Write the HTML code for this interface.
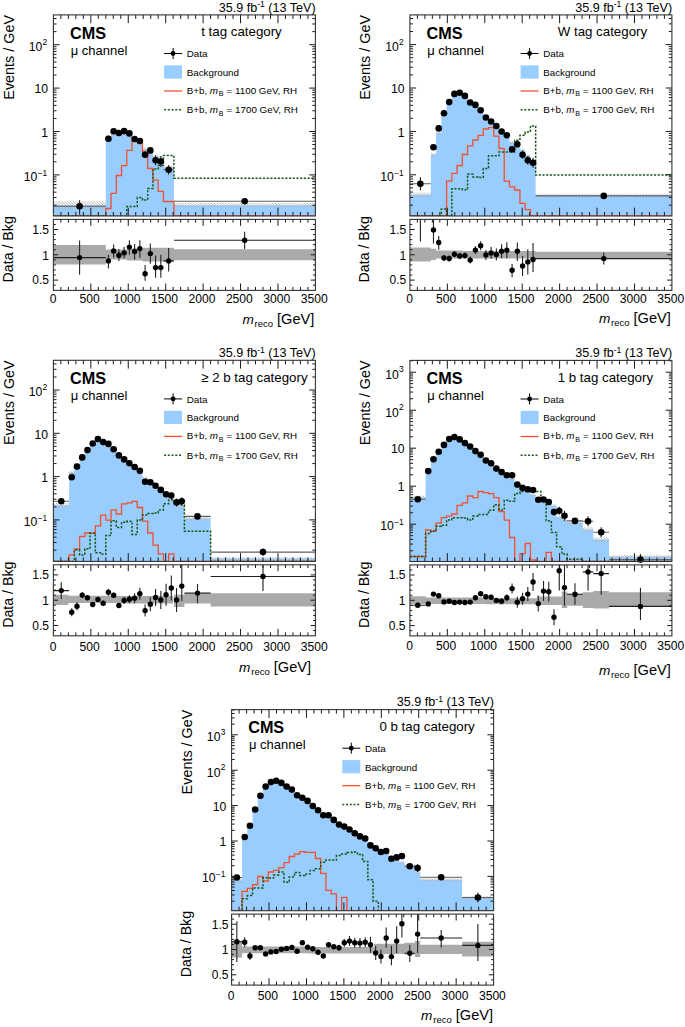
<!DOCTYPE html>
<html><head><meta charset="utf-8"><style>html,body{margin:0;padding:0;background:#fff;}svg{display:block;}</style></head>
<body><svg width="685" height="1027" viewBox="0 0 685 1027">
<defs><pattern id="hatch" patternUnits="userSpaceOnUse" width="2.05" height="2.05" patternTransform="rotate(45)"><rect width="2.05" height="0.7" fill="#b0b0b0"/></pattern></defs>
<rect width="685" height="1027" fill="#fff"/>
<clipPath id="c1"><rect x="53.4" y="14.9" width="262" height="201.1"/></clipPath>
<g clip-path="url(#c1)">
<path d="M53.4 216 L53.4 205.2 L105.8 205.2 L105.8 136.9 L111.04 136.9 L111.04 134.1 L116.28 134.1 L116.28 134.2 L121.52 134.2 L121.52 133.7 L126.76 133.7 L126.76 136.3 L132 136.3 L132 141.1 L137.24 141.1 L137.24 143.1 L142.48 143.1 L142.48 149 L147.72 149 L147.72 152.2 L152.96 152.2 L152.96 156.4 L158.2 156.4 L158.2 157.5 L163.44 157.5 L163.44 167.7 L173.92 167.7 L173.92 205.2 L315.4 205.2 L315.4 216Z" fill="#99ccff"/>
<path d="M53.4 201.3H105.8V209.1H53.4ZM105.8 135.1H111.04V138.7H105.8ZM111.04 132.3H116.28V135.9H111.04ZM116.28 132.4H121.52V136H116.28ZM121.52 131.9H126.76V135.5H121.52ZM126.76 134.5H132V138.1H126.76ZM132 139.3H137.24V142.9H132ZM137.24 141.3H142.48V144.9H137.24ZM142.48 147.2H147.72V150.8H142.48ZM147.72 150.4H152.96V154H147.72ZM152.96 154.6H158.2V158.2H152.96ZM158.2 155.7H163.44V159.3H158.2ZM163.44 165.9H173.92V169.5H163.44ZM173.92 203.1H315.4V207.3H173.92Z" fill="url(#hatch)"/>
<path d="M53.4 216 L105.8 216 L105.8 208.5 L111.04 208.5 L111.04 193.3 L116.28 193.3 L116.28 175.5 L121.52 175.5 L121.52 165.6 L126.76 165.6 L126.76 150.4 L132 150.4 L132 141 L137.24 141 L137.24 141 L142.48 141 L142.48 151.6 L147.72 151.6 L147.72 168.5 L152.96 168.5 L152.96 180.2 L158.2 180.2 L158.2 191.4 L163.44 191.4 L163.44 201.5 L173.92 201.5 L173.92 216 L315.4 216" fill="none" stroke="#f44f30" stroke-width="1.3"/>
<path d="M53.4 216 L105.8 216 L105.8 216 L111.04 216 L111.04 216 L116.28 216 L116.28 216 L121.52 216 L121.52 216 L126.76 216 L126.76 206.6 L132 206.6 L132 206.6 L137.24 206.6 L137.24 197.6 L142.48 197.6 L142.48 200 L147.72 200 L147.72 188.4 L152.96 188.4 L152.96 169.1 L158.2 169.1 L158.2 165.6 L163.44 165.6 L163.44 155.5 L173.92 155.5 L173.92 178.3 L315.4 178.3" fill="none" stroke="#1a581a" stroke-width="1.5" stroke-dasharray="2.2 1.52"/>
<path d="M53.4 206.3H105.8M163.44 169.7H173.92M173.92 201.2H315.4" stroke="#606060" stroke-width="1.1" fill="none"/>
<path d="M79.6 200.3V214.7M145.1 151.8V157.8M150.34 147.4V153.4M155.58 155.3V165.3M160.82 156V167M168.68 165V174.4" stroke="#222" stroke-width="1.1" fill="none"/>
</g>
<g fill="#000"><circle cx="79.6" cy="206.3" r="3.3"/><circle cx="108.42" cy="138.7" r="3.3"/><circle cx="113.66" cy="131.2" r="3.3"/><circle cx="118.9" cy="133" r="3.3"/><circle cx="124.14" cy="131.1" r="3.3"/><circle cx="129.38" cy="133.4" r="3.3"/><circle cx="134.62" cy="139" r="3.3"/><circle cx="139.86" cy="141" r="3.3"/><circle cx="145.1" cy="154.8" r="3.3"/><circle cx="150.34" cy="150.4" r="3.3"/><circle cx="155.58" cy="160.3" r="3.3"/><circle cx="160.82" cy="161.5" r="3.3"/><circle cx="168.68" cy="169.7" r="3.3"/><circle cx="244.66" cy="201.2" r="3.3"/></g>
<clipPath id="c1l"><rect x="53.4" y="219.4" width="262" height="71"/></clipPath>
<g clip-path="url(#c1l)">
<path d="M53.4 244.9H105.8V264.6H53.4ZM105.8 249.5H126.76V259.5H105.8ZM126.76 248.5H142.48V260.5H126.76ZM142.48 247.7H173.92V261.5H142.48ZM173.92 249.2H315.4V260.3H173.92Z" fill="#aaaaaa"/>
<path d="M53.4 257.6H105.8M163.44 260.9H173.92M173.92 240.3H315.4" stroke="#222" stroke-width="1.1" fill="none"/>
<path d="M79.6 240.4V274.7M108.42 255V268.5M113.66 244.5V257.6M118.9 249V261M124.14 247.1V258.5M129.38 240.2V254.8M134.62 244V259.5M139.86 240.2V257.7M145.1 265V280.7M150.34 243.4V263.8M155.58 255.5V277.8M160.82 254.8V277.8M168.68 248V271.4M244.66 231.8V249" stroke="#222" stroke-width="1.1" fill="none"/>
</g>
<g fill="#000"><circle cx="79.6" cy="257.6" r="2.7"/><circle cx="108.42" cy="260.9" r="2.7"/><circle cx="113.66" cy="250.9" r="2.7"/><circle cx="118.9" cy="255.3" r="2.7"/><circle cx="124.14" cy="252.9" r="2.7"/><circle cx="129.38" cy="247.1" r="2.7"/><circle cx="134.62" cy="251.5" r="2.7"/><circle cx="139.86" cy="248.6" r="2.7"/><circle cx="145.1" cy="273.7" r="2.7"/><circle cx="150.34" cy="253.6" r="2.7"/><circle cx="155.58" cy="267.6" r="2.7"/><circle cx="160.82" cy="267.6" r="2.7"/><circle cx="168.68" cy="260.9" r="2.7"/><circle cx="244.66" cy="240.3" r="2.7"/></g>
<path d="M60.89 14.9v4M60.89 216v-4M68.37 14.9v4M68.37 216v-4M75.86 14.9v4M75.86 216v-4M83.34 14.9v4M83.34 216v-4M90.83 14.9v8.3M90.83 216v-8.3M98.31 14.9v4M98.31 216v-4M105.8 14.9v4M105.8 216v-4M113.29 14.9v4M113.29 216v-4M120.77 14.9v4M120.77 216v-4M128.26 14.9v8.3M128.26 216v-8.3M135.74 14.9v4M135.74 216v-4M143.23 14.9v4M143.23 216v-4M150.71 14.9v4M150.71 216v-4M158.2 14.9v4M158.2 216v-4M165.69 14.9v8.3M165.69 216v-8.3M173.17 14.9v4M173.17 216v-4M180.66 14.9v4M180.66 216v-4M188.14 14.9v4M188.14 216v-4M195.63 14.9v4M195.63 216v-4M203.11 14.9v8.3M203.11 216v-8.3M210.6 14.9v4M210.6 216v-4M218.09 14.9v4M218.09 216v-4M225.57 14.9v4M225.57 216v-4M233.06 14.9v4M233.06 216v-4M240.54 14.9v8.3M240.54 216v-8.3M248.03 14.9v4M248.03 216v-4M255.51 14.9v4M255.51 216v-4M263 14.9v4M263 216v-4M270.49 14.9v4M270.49 216v-4M277.97 14.9v8.3M277.97 216v-8.3M285.46 14.9v4M285.46 216v-4M292.94 14.9v4M292.94 216v-4M300.43 14.9v4M300.43 216v-4M307.91 14.9v4M307.91 216v-4M53.4 205.24h3.1M315.4 205.24h-3.1M53.4 197.59h3.1M315.4 197.59h-3.1M53.4 192.17h3.1M315.4 192.17h-3.1M53.4 187.96h3.1M315.4 187.96h-3.1M53.4 184.53h3.1M315.4 184.53h-3.1M53.4 181.62h3.1M315.4 181.62h-3.1M53.4 179.11h3.1M315.4 179.11h-3.1M53.4 176.89h3.1M315.4 176.89h-3.1M53.4 174.9h6.2M315.4 174.9h-6.2M53.4 161.84h3.1M315.4 161.84h-3.1M53.4 154.19h3.1M315.4 154.19h-3.1M53.4 148.77h3.1M315.4 148.77h-3.1M53.4 144.56h3.1M315.4 144.56h-3.1M53.4 141.13h3.1M315.4 141.13h-3.1M53.4 138.22h3.1M315.4 138.22h-3.1M53.4 135.71h3.1M315.4 135.71h-3.1M53.4 133.49h3.1M315.4 133.49h-3.1M53.4 131.5h6.2M315.4 131.5h-6.2M53.4 118.44h3.1M315.4 118.44h-3.1M53.4 110.79h3.1M315.4 110.79h-3.1M53.4 105.37h3.1M315.4 105.37h-3.1M53.4 101.16h3.1M315.4 101.16h-3.1M53.4 97.73h3.1M315.4 97.73h-3.1M53.4 94.82h3.1M315.4 94.82h-3.1M53.4 92.31h3.1M315.4 92.31h-3.1M53.4 90.09h3.1M315.4 90.09h-3.1M53.4 88.1h6.2M315.4 88.1h-6.2M53.4 75.04h3.1M315.4 75.04h-3.1M53.4 67.39h3.1M315.4 67.39h-3.1M53.4 61.97h3.1M315.4 61.97h-3.1M53.4 57.76h3.1M315.4 57.76h-3.1M53.4 54.33h3.1M315.4 54.33h-3.1M53.4 51.42h3.1M315.4 51.42h-3.1M53.4 48.91h3.1M315.4 48.91h-3.1M53.4 46.69h3.1M315.4 46.69h-3.1M53.4 44.7h6.2M315.4 44.7h-6.2M53.4 31.64h3.1M315.4 31.64h-3.1M53.4 23.99h3.1M315.4 23.99h-3.1M53.4 18.57h3.1M315.4 18.57h-3.1M60.89 219.4v3.2M60.89 290.4v-3.5M68.37 219.4v3.2M68.37 290.4v-3.5M75.86 219.4v3.2M75.86 290.4v-3.5M83.34 219.4v3.2M83.34 290.4v-3.5M90.83 219.4v6.4M90.83 290.4v-6.9M98.31 219.4v3.2M98.31 290.4v-3.5M105.8 219.4v3.2M105.8 290.4v-3.5M113.29 219.4v3.2M113.29 290.4v-3.5M120.77 219.4v3.2M120.77 290.4v-3.5M128.26 219.4v6.4M128.26 290.4v-6.9M135.74 219.4v3.2M135.74 290.4v-3.5M143.23 219.4v3.2M143.23 290.4v-3.5M150.71 219.4v3.2M150.71 290.4v-3.5M158.2 219.4v3.2M158.2 290.4v-3.5M165.69 219.4v6.4M165.69 290.4v-6.9M173.17 219.4v3.2M173.17 290.4v-3.5M180.66 219.4v3.2M180.66 290.4v-3.5M188.14 219.4v3.2M188.14 290.4v-3.5M195.63 219.4v3.2M195.63 290.4v-3.5M203.11 219.4v6.4M203.11 290.4v-6.9M210.6 219.4v3.2M210.6 290.4v-3.5M218.09 219.4v3.2M218.09 290.4v-3.5M225.57 219.4v3.2M225.57 290.4v-3.5M233.06 219.4v3.2M233.06 290.4v-3.5M240.54 219.4v6.4M240.54 290.4v-6.9M248.03 219.4v3.2M248.03 290.4v-3.5M255.51 219.4v3.2M255.51 290.4v-3.5M263 219.4v3.2M263 290.4v-3.5M270.49 219.4v3.2M270.49 290.4v-3.5M277.97 219.4v6.4M277.97 290.4v-6.9M285.46 219.4v3.2M285.46 290.4v-3.5M292.94 219.4v3.2M292.94 290.4v-3.5M300.43 219.4v3.2M300.43 290.4v-3.5M307.91 219.4v3.2M307.91 290.4v-3.5M53.4 285.16h2.4M315.4 285.16h-2.4M53.4 280.1h4.7M315.4 280.1h-4.7M53.4 275.04h2.4M315.4 275.04h-2.4M53.4 269.98h2.4M315.4 269.98h-2.4M53.4 264.92h2.4M315.4 264.92h-2.4M53.4 259.86h2.4M315.4 259.86h-2.4M53.4 254.8h4.7M315.4 254.8h-4.7M53.4 249.74h2.4M315.4 249.74h-2.4M53.4 244.68h2.4M315.4 244.68h-2.4M53.4 239.62h2.4M315.4 239.62h-2.4M53.4 234.56h2.4M315.4 234.56h-2.4M53.4 229.5h4.7M315.4 229.5h-4.7M53.4 224.44h2.4M315.4 224.44h-2.4" stroke="#1a1a1a" stroke-width="1" fill="none"/>
<rect x="53.4" y="14.9" width="262" height="201.1" fill="none" stroke="#333" stroke-width="1.1"/>
<rect x="53.4" y="219.4" width="262" height="71" fill="none" stroke="#333" stroke-width="1.1"/>
<g style="font-family:'Liberation Sans',sans-serif" fill="#000"><text x="315.7" y="11.7" font-size="12.6" text-anchor="end">35.9 fb<tspan font-size="8.6" dy="-4.6">-1</tspan><tspan dy="4.6"> (13 TeV)</tspan></text><text x="70" y="38.65" font-size="16.4" font-weight="bold" textLength="36" lengthAdjust="spacingAndGlyphs">CMS</text><text x="70.7" y="54.7" font-size="13">μ channel</text><text x="201.2" y="36.4" font-size="13.3">t tag category</text><path d="M164.1 53.5h18M173.1 48v11" stroke="#000" stroke-width="1"/><circle cx="173.1" cy="53.5" r="2.4" fill="#000"/><text x="186.7" y="57.1" font-size="9.8">Data</text><rect x="164.1" y="65.4" width="18" height="13.2" fill="#99ccff"/><text x="186.7" y="75.8" font-size="9.8">Background</text><path d="M164.1 91h18" stroke="#f44f30" stroke-width="1.3"/><text x="186.7" y="93.9" font-size="9.8">B+b, <tspan font-style="italic">m</tspan><tspan font-size="7" dy="2.4" dx="0.6">B</tspan><tspan dy="-2.4" dx="0.6"> = 1100 GeV, RH</tspan></text><path d="M164.1 109.8h18" stroke="#1a581a" stroke-width="1.4" stroke-dasharray="2 1.72"/><text x="186.7" y="113.3" font-size="9.8">B+b, <tspan font-style="italic">m</tspan><tspan font-size="7" dy="2.4" dx="0.6">B</tspan><tspan dy="-2.4" dx="0.6"> = 1700 GeV, RH</tspan></text><text x="47.2" y="51.1" font-size="12.2" text-anchor="end">10<tspan font-size="8.4" dy="-6.4" dx="0.3">2</tspan></text><text x="48" y="93.3" font-size="12.2" text-anchor="end">10</text><text x="48" y="136.7" font-size="12.2" text-anchor="end">1</text><text x="47.2" y="180.9" font-size="12.2" text-anchor="end">10<tspan font-size="8.4" dy="-5.2" dx="0.3">−1</tspan></text><text x="49" y="233.8" font-size="12" text-anchor="end">1.5</text><text x="49" y="259.6" font-size="12" text-anchor="end">1</text><text x="49" y="284.4" font-size="12" text-anchor="end">0.5</text><text x="53" y="303" font-size="12.1" text-anchor="middle">0</text><text x="89.63" y="303" font-size="12.1" text-anchor="middle">500</text><text x="127.06" y="303" font-size="12.1" text-anchor="middle">1000</text><text x="164.49" y="303" font-size="12.1" text-anchor="middle">1500</text><text x="201.91" y="303" font-size="12.1" text-anchor="middle">2000</text><text x="239.34" y="303" font-size="12.1" text-anchor="middle">2500</text><text x="276.77" y="303" font-size="12.1" text-anchor="middle">3000</text><text x="314.2" y="303" font-size="12.1" text-anchor="middle">3500</text><text transform="translate(13.8 14.9) rotate(-90)" font-size="14.4" text-anchor="end">Events / GeV</text><text transform="translate(12.8 216.2) rotate(-90)" font-size="14.2" text-anchor="end">Data / Bkg</text><text x="314.4" y="323.7" font-size="14.6" text-anchor="end"><tspan font-style="italic" font-size="13.6">m</tspan><tspan font-size="9.5" dy="3" dx="0.8">reco</tspan><tspan dy="-3"> [GeV]</tspan></text></g>
<clipPath id="c2"><rect x="409.9" y="14.9" width="262" height="201.1"/></clipPath>
<g clip-path="url(#c2)">
<path d="M409.9 216 L409.9 194.8 L430.86 194.8 L430.86 154.6 L436.1 154.6 L436.1 132.8 L441.34 132.8 L441.34 114.5 L446.58 114.5 L446.58 102.8 L451.82 102.8 L451.82 95.8 L457.06 95.8 L457.06 94.1 L462.3 94.1 L462.3 96.8 L467.54 96.8 L467.54 101.5 L472.78 101.5 L472.78 106.5 L478.02 106.5 L478.02 112.4 L483.26 112.4 L483.26 117 L488.5 117 L488.5 121.8 L493.74 121.8 L493.74 126.3 L498.98 126.3 L498.98 132.2 L504.22 132.2 L504.22 136.9 L509.46 136.9 L509.46 142.3 L514.7 142.3 L514.7 146.3 L519.94 146.3 L519.94 150.1 L525.18 150.1 L525.18 155.8 L530.42 155.8 L530.42 160 L535.66 160 L535.66 195.3 L671.9 195.3 L671.9 216Z" fill="#99ccff"/>
<path d="M409.9 192.5H430.86V197.1H409.9ZM430.86 153H436.1V156.2H430.86ZM436.1 131.2H441.34V134.4H436.1ZM441.34 112.9H446.58V116.1H441.34ZM446.58 101.2H451.82V104.4H446.58ZM451.82 94.2H457.06V97.4H451.82ZM457.06 92.5H462.3V95.7H457.06ZM462.3 95.2H467.54V98.4H462.3ZM467.54 99.9H472.78V103.1H467.54ZM472.78 104.9H478.02V108.1H472.78ZM478.02 110.8H483.26V114H478.02ZM483.26 115.4H488.5V118.6H483.26ZM488.5 120.2H493.74V123.4H488.5ZM493.74 124.7H498.98V127.9H493.74ZM498.98 130.6H504.22V133.8H498.98ZM504.22 135.3H509.46V138.5H504.22ZM509.46 140.7H514.7V143.9H509.46ZM514.7 144.7H519.94V147.9H514.7ZM519.94 148.5H525.18V151.7H519.94ZM525.18 154.2H530.42V157.4H525.18ZM530.42 158.4H535.66V161.6H530.42ZM535.66 193.7H671.9V196.9H535.66Z" fill="url(#hatch)"/>
<path d="M409.9 216 L430.86 216 L430.86 216 L436.1 216 L436.1 216 L441.34 216 L441.34 216 L446.58 216 L446.58 181.2 L451.82 181.2 L451.82 173.4 L457.06 173.4 L457.06 165.5 L462.3 165.5 L462.3 154.5 L467.54 154.5 L467.54 145.9 L472.78 145.9 L472.78 140 L478.02 140 L478.02 135.3 L483.26 135.3 L483.26 129 L488.5 129 L488.5 127.7 L493.74 127.7 L493.74 136.2 L498.98 136.2 L498.98 148.5 L504.22 148.5 L504.22 181.1 L509.46 181.1 L509.46 186.8 L514.7 186.8 L514.7 190 L519.94 190 L519.94 203.3 L525.18 203.3 L525.18 209.6 L530.42 209.6 L530.42 216 L535.66 216 L535.66 216 L671.9 216" fill="none" stroke="#f44f30" stroke-width="1.3"/>
<path d="M409.9 216 L430.86 216 L430.86 216 L436.1 216 L436.1 216 L441.34 216 L441.34 209.1 L446.58 209.1 L446.58 216 L451.82 216 L451.82 188.7 L457.06 188.7 L457.06 188.7 L462.3 188.7 L462.3 189.8 L467.54 189.8 L467.54 174.3 L472.78 174.3 L472.78 177 L478.02 177 L478.02 177.5 L483.26 177.5 L483.26 168.5 L488.5 168.5 L488.5 155.8 L493.74 155.8 L493.74 155.8 L498.98 155.8 L498.98 152 L504.22 152 L504.22 152 L509.46 152 L509.46 152 L514.7 152 L514.7 140.2 L519.94 140.2 L519.94 135.2 L525.18 135.2 L525.18 132.1 L530.42 132.1 L530.42 126 L535.66 126 L535.66 175 L671.9 175" fill="none" stroke="#1a581a" stroke-width="1.5" stroke-dasharray="2.2 1.52"/>
<path d="M409.9 183.8H430.86M535.66 195.9H671.9" stroke="#606060" stroke-width="1.1" fill="none"/>
<path d="M420.38 177.3V190.3M512.08 146.2V152.2M517.32 141.3V147.3M522.56 150.8V158.8M527.8 155.8V164.8M533.04 157.8V167.8" stroke="#222" stroke-width="1.1" fill="none"/>
</g>
<g fill="#000"><circle cx="420.38" cy="183.8" r="3.3"/><circle cx="433.48" cy="147.2" r="3.3"/><circle cx="438.72" cy="128.4" r="3.3"/><circle cx="443.96" cy="113.2" r="3.3"/><circle cx="449.2" cy="102.1" r="3.3"/><circle cx="454.44" cy="93.9" r="3.3"/><circle cx="459.68" cy="92.7" r="3.3"/><circle cx="464.92" cy="95.9" r="3.3"/><circle cx="470.16" cy="102.5" r="3.3"/><circle cx="475.4" cy="104.9" r="3.3"/><circle cx="480.64" cy="110.2" r="3.3"/><circle cx="485.88" cy="117.5" r="3.3"/><circle cx="491.12" cy="121.5" r="3.3"/><circle cx="496.36" cy="126" r="3.3"/><circle cx="501.6" cy="131.5" r="3.3"/><circle cx="506.84" cy="135.2" r="3.3"/><circle cx="512.08" cy="149.2" r="3.3"/><circle cx="517.32" cy="144.3" r="3.3"/><circle cx="522.56" cy="154.8" r="3.3"/><circle cx="527.8" cy="160.3" r="3.3"/><circle cx="533.04" cy="162.8" r="3.3"/><circle cx="603.78" cy="195.9" r="3.3"/></g>
<clipPath id="c2l"><rect x="409.9" y="219.4" width="262" height="71"/></clipPath>
<g clip-path="url(#c2l)">
<path d="M409.9 247.6H430.86V261.5H409.9ZM430.86 248.7H436.1V259.9H430.86ZM436.1 250.5H462.3V258.5H436.1ZM462.3 251H535.66V258.5H462.3ZM535.66 251.7H671.9V258.4H535.66Z" fill="#aaaaaa"/>
<path d="M409.9 -30H430.86M535.66 258.6H671.9" stroke="#222" stroke-width="1.1" fill="none"/>
<path d="M420.38 -30V241.5M433.48 217.9V243.5M438.72 236V249.7M443.96 254.9V260.9M449.2 255.5V261.5M454.44 251.2V257.2M459.68 253V259M464.92 252.6V258.6M470.16 256.6V263.6M475.4 246.1V254.1M480.64 241.3V250.3M485.88 250V260M491.12 247V259M496.36 248.4V260.4M501.6 244.3V258.3M506.84 242.3V258.3M512.08 264V277.3M517.32 242.5V260.9M522.56 256V276M527.8 249.2V274.6M533.04 243V272M603.78 252.8V264.4" stroke="#222" stroke-width="1.1" fill="none"/>
</g>
<g fill="#000"><circle cx="420.38" cy="-30" r="2.7"/><circle cx="433.48" cy="229.9" r="2.7"/><circle cx="438.72" cy="242.5" r="2.7"/><circle cx="443.96" cy="257.9" r="2.7"/><circle cx="449.2" cy="258.5" r="2.7"/><circle cx="454.44" cy="254.2" r="2.7"/><circle cx="459.68" cy="256" r="2.7"/><circle cx="464.92" cy="255.6" r="2.7"/><circle cx="470.16" cy="260.1" r="2.7"/><circle cx="475.4" cy="250.1" r="2.7"/><circle cx="480.64" cy="245.8" r="2.7"/><circle cx="485.88" cy="255" r="2.7"/><circle cx="491.12" cy="253" r="2.7"/><circle cx="496.36" cy="254.4" r="2.7"/><circle cx="501.6" cy="251.3" r="2.7"/><circle cx="506.84" cy="250.3" r="2.7"/><circle cx="512.08" cy="270.3" r="2.7"/><circle cx="517.32" cy="251.3" r="2.7"/><circle cx="522.56" cy="266" r="2.7"/><circle cx="527.8" cy="261.9" r="2.7"/><circle cx="533.04" cy="259.5" r="2.7"/><circle cx="603.78" cy="258.6" r="2.7"/></g>
<path d="M417.39 14.9v4M417.39 216v-4M424.87 14.9v4M424.87 216v-4M432.36 14.9v4M432.36 216v-4M439.84 14.9v4M439.84 216v-4M447.33 14.9v8.3M447.33 216v-8.3M454.81 14.9v4M454.81 216v-4M462.3 14.9v4M462.3 216v-4M469.79 14.9v4M469.79 216v-4M477.27 14.9v4M477.27 216v-4M484.76 14.9v8.3M484.76 216v-8.3M492.24 14.9v4M492.24 216v-4M499.73 14.9v4M499.73 216v-4M507.21 14.9v4M507.21 216v-4M514.7 14.9v4M514.7 216v-4M522.19 14.9v8.3M522.19 216v-8.3M529.67 14.9v4M529.67 216v-4M537.16 14.9v4M537.16 216v-4M544.64 14.9v4M544.64 216v-4M552.13 14.9v4M552.13 216v-4M559.61 14.9v8.3M559.61 216v-8.3M567.1 14.9v4M567.1 216v-4M574.59 14.9v4M574.59 216v-4M582.07 14.9v4M582.07 216v-4M589.56 14.9v4M589.56 216v-4M597.04 14.9v8.3M597.04 216v-8.3M604.53 14.9v4M604.53 216v-4M612.01 14.9v4M612.01 216v-4M619.5 14.9v4M619.5 216v-4M626.99 14.9v4M626.99 216v-4M634.47 14.9v8.3M634.47 216v-8.3M641.96 14.9v4M641.96 216v-4M649.44 14.9v4M649.44 216v-4M656.93 14.9v4M656.93 216v-4M664.41 14.9v4M664.41 216v-4M409.9 205.14h3.1M671.9 205.14h-3.1M409.9 197.49h3.1M671.9 197.49h-3.1M409.9 192.07h3.1M671.9 192.07h-3.1M409.9 187.86h3.1M671.9 187.86h-3.1M409.9 184.43h3.1M671.9 184.43h-3.1M409.9 181.52h3.1M671.9 181.52h-3.1M409.9 179.01h3.1M671.9 179.01h-3.1M409.9 176.79h3.1M671.9 176.79h-3.1M409.9 174.8h6.2M671.9 174.8h-6.2M409.9 161.74h3.1M671.9 161.74h-3.1M409.9 154.09h3.1M671.9 154.09h-3.1M409.9 148.67h3.1M671.9 148.67h-3.1M409.9 144.46h3.1M671.9 144.46h-3.1M409.9 141.03h3.1M671.9 141.03h-3.1M409.9 138.12h3.1M671.9 138.12h-3.1M409.9 135.61h3.1M671.9 135.61h-3.1M409.9 133.39h3.1M671.9 133.39h-3.1M409.9 131.4h6.2M671.9 131.4h-6.2M409.9 118.34h3.1M671.9 118.34h-3.1M409.9 110.69h3.1M671.9 110.69h-3.1M409.9 105.27h3.1M671.9 105.27h-3.1M409.9 101.06h3.1M671.9 101.06h-3.1M409.9 97.63h3.1M671.9 97.63h-3.1M409.9 94.72h3.1M671.9 94.72h-3.1M409.9 92.21h3.1M671.9 92.21h-3.1M409.9 89.99h3.1M671.9 89.99h-3.1M409.9 88h6.2M671.9 88h-6.2M409.9 74.94h3.1M671.9 74.94h-3.1M409.9 67.29h3.1M671.9 67.29h-3.1M409.9 61.87h3.1M671.9 61.87h-3.1M409.9 57.66h3.1M671.9 57.66h-3.1M409.9 54.23h3.1M671.9 54.23h-3.1M409.9 51.32h3.1M671.9 51.32h-3.1M409.9 48.81h3.1M671.9 48.81h-3.1M409.9 46.59h3.1M671.9 46.59h-3.1M409.9 44.6h6.2M671.9 44.6h-6.2M409.9 31.54h3.1M671.9 31.54h-3.1M409.9 23.89h3.1M671.9 23.89h-3.1M409.9 18.47h3.1M671.9 18.47h-3.1M417.39 219.4v3.2M417.39 290.4v-3.5M424.87 219.4v3.2M424.87 290.4v-3.5M432.36 219.4v3.2M432.36 290.4v-3.5M439.84 219.4v3.2M439.84 290.4v-3.5M447.33 219.4v6.4M447.33 290.4v-6.9M454.81 219.4v3.2M454.81 290.4v-3.5M462.3 219.4v3.2M462.3 290.4v-3.5M469.79 219.4v3.2M469.79 290.4v-3.5M477.27 219.4v3.2M477.27 290.4v-3.5M484.76 219.4v6.4M484.76 290.4v-6.9M492.24 219.4v3.2M492.24 290.4v-3.5M499.73 219.4v3.2M499.73 290.4v-3.5M507.21 219.4v3.2M507.21 290.4v-3.5M514.7 219.4v3.2M514.7 290.4v-3.5M522.19 219.4v6.4M522.19 290.4v-6.9M529.67 219.4v3.2M529.67 290.4v-3.5M537.16 219.4v3.2M537.16 290.4v-3.5M544.64 219.4v3.2M544.64 290.4v-3.5M552.13 219.4v3.2M552.13 290.4v-3.5M559.61 219.4v6.4M559.61 290.4v-6.9M567.1 219.4v3.2M567.1 290.4v-3.5M574.59 219.4v3.2M574.59 290.4v-3.5M582.07 219.4v3.2M582.07 290.4v-3.5M589.56 219.4v3.2M589.56 290.4v-3.5M597.04 219.4v6.4M597.04 290.4v-6.9M604.53 219.4v3.2M604.53 290.4v-3.5M612.01 219.4v3.2M612.01 290.4v-3.5M619.5 219.4v3.2M619.5 290.4v-3.5M626.99 219.4v3.2M626.99 290.4v-3.5M634.47 219.4v6.4M634.47 290.4v-6.9M641.96 219.4v3.2M641.96 290.4v-3.5M649.44 219.4v3.2M649.44 290.4v-3.5M656.93 219.4v3.2M656.93 290.4v-3.5M664.41 219.4v3.2M664.41 290.4v-3.5M409.9 285.16h2.4M671.9 285.16h-2.4M409.9 280.1h4.7M671.9 280.1h-4.7M409.9 275.04h2.4M671.9 275.04h-2.4M409.9 269.98h2.4M671.9 269.98h-2.4M409.9 264.92h2.4M671.9 264.92h-2.4M409.9 259.86h2.4M671.9 259.86h-2.4M409.9 254.8h4.7M671.9 254.8h-4.7M409.9 249.74h2.4M671.9 249.74h-2.4M409.9 244.68h2.4M671.9 244.68h-2.4M409.9 239.62h2.4M671.9 239.62h-2.4M409.9 234.56h2.4M671.9 234.56h-2.4M409.9 229.5h4.7M671.9 229.5h-4.7M409.9 224.44h2.4M671.9 224.44h-2.4" stroke="#1a1a1a" stroke-width="1" fill="none"/>
<rect x="409.9" y="14.9" width="262" height="201.1" fill="none" stroke="#333" stroke-width="1.1"/>
<rect x="409.9" y="219.4" width="262" height="71" fill="none" stroke="#333" stroke-width="1.1"/>
<g style="font-family:'Liberation Sans',sans-serif" fill="#000"><text x="672.2" y="11.7" font-size="12.6" text-anchor="end">35.9 fb<tspan font-size="8.6" dy="-4.6">-1</tspan><tspan dy="4.6"> (13 TeV)</tspan></text><text x="426.5" y="38.65" font-size="16.4" font-weight="bold" textLength="36" lengthAdjust="spacingAndGlyphs">CMS</text><text x="427.2" y="54.7" font-size="13">μ channel</text><text x="557.7" y="36.4" font-size="13.3">W tag category</text><path d="M520.6 53.5h18M529.6 48v11" stroke="#000" stroke-width="1"/><circle cx="529.6" cy="53.5" r="2.4" fill="#000"/><text x="543.2" y="57.1" font-size="9.8">Data</text><rect x="520.6" y="65.4" width="18" height="13.2" fill="#99ccff"/><text x="543.2" y="75.8" font-size="9.8">Background</text><path d="M520.6 91h18" stroke="#f44f30" stroke-width="1.3"/><text x="543.2" y="93.9" font-size="9.8">B+b, <tspan font-style="italic">m</tspan><tspan font-size="7" dy="2.4" dx="0.6">B</tspan><tspan dy="-2.4" dx="0.6"> = 1100 GeV, RH</tspan></text><path d="M520.6 109.8h18" stroke="#1a581a" stroke-width="1.4" stroke-dasharray="2 1.72"/><text x="543.2" y="113.3" font-size="9.8">B+b, <tspan font-style="italic">m</tspan><tspan font-size="7" dy="2.4" dx="0.6">B</tspan><tspan dy="-2.4" dx="0.6"> = 1700 GeV, RH</tspan></text><text x="403.7" y="51" font-size="12.2" text-anchor="end">10<tspan font-size="8.4" dy="-6.4" dx="0.3">2</tspan></text><text x="404.5" y="93.2" font-size="12.2" text-anchor="end">10</text><text x="404.5" y="136.6" font-size="12.2" text-anchor="end">1</text><text x="403.7" y="180.8" font-size="12.2" text-anchor="end">10<tspan font-size="8.4" dy="-5.2" dx="0.3">−1</tspan></text><text x="406.3" y="233.8" font-size="12" text-anchor="end">1.5</text><text x="406.3" y="259.6" font-size="12" text-anchor="end">1</text><text x="406.3" y="284.4" font-size="12" text-anchor="end">0.5</text><text x="409.5" y="303" font-size="12.1" text-anchor="middle">0</text><text x="446.13" y="303" font-size="12.1" text-anchor="middle">500</text><text x="483.56" y="303" font-size="12.1" text-anchor="middle">1000</text><text x="520.99" y="303" font-size="12.1" text-anchor="middle">1500</text><text x="558.41" y="303" font-size="12.1" text-anchor="middle">2000</text><text x="595.84" y="303" font-size="12.1" text-anchor="middle">2500</text><text x="633.27" y="303" font-size="12.1" text-anchor="middle">3000</text><text x="670.7" y="303" font-size="12.1" text-anchor="middle">3500</text><text transform="translate(370.3 14.9) rotate(-90)" font-size="14.4" text-anchor="end">Events / GeV</text><text transform="translate(369.3 216.2) rotate(-90)" font-size="14.2" text-anchor="end">Data / Bkg</text><text x="670.9" y="323.3" font-size="14.6" text-anchor="end"><tspan font-style="italic" font-size="13.6">m</tspan><tspan font-size="9.5" dy="3" dx="0.8">reco</tspan><tspan dy="-3"> [GeV]</tspan></text></g>
<clipPath id="c3"><rect x="53.4" y="360.3" width="262" height="201.1"/></clipPath>
<g clip-path="url(#c3)">
<path d="M53.4 561.4 L53.4 505.2 L69.12 505.2 L69.12 472.3 L74.36 472.3 L74.36 464.9 L79.6 464.9 L79.6 459.6 L84.84 459.6 L84.84 452.2 L90.08 452.2 L90.08 444.4 L95.32 444.4 L95.32 441.6 L100.56 441.6 L100.56 442.4 L105.8 442.4 L105.8 446.4 L111.04 446.4 L111.04 450.7 L116.28 450.7 L116.28 454.6 L121.52 454.6 L121.52 459.9 L126.76 459.9 L126.76 464.1 L132 464.1 L132 468.1 L137.24 468.1 L137.24 473 L142.48 473 L142.48 478.2 L147.72 478.2 L147.72 482.4 L152.96 482.4 L152.96 487.4 L158.2 487.4 L158.2 491 L163.44 491 L163.44 496.1 L168.68 496.1 L168.68 499.9 L173.92 499.9 L173.92 502.5 L179.16 502.5 L179.16 506.4 L184.4 506.4 L184.4 518.4 L210.6 518.4 L210.6 558.6 L315.4 558.6 L315.4 561.4Z" fill="#99ccff"/>
<path d="M53.4 503H69.12V507.4H53.4ZM69.12 470.7H74.36V473.9H69.12ZM74.36 463.3H79.6V466.5H74.36ZM79.6 458H84.84V461.2H79.6ZM84.84 450.6H90.08V453.8H84.84ZM90.08 442.8H95.32V446H90.08ZM95.32 440H100.56V443.2H95.32ZM100.56 440.8H105.8V444H100.56ZM105.8 444.8H111.04V448H105.8ZM111.04 449.1H116.28V452.3H111.04ZM116.28 453H121.52V456.2H116.28ZM121.52 458.3H126.76V461.5H121.52ZM126.76 462.5H132V465.7H126.76ZM132 466.5H137.24V469.7H132ZM137.24 471.4H142.48V474.6H137.24ZM142.48 476.6H147.72V479.8H142.48ZM147.72 480.8H152.96V484H147.72ZM152.96 485.8H158.2V489H152.96ZM158.2 489.4H163.44V492.6H158.2ZM163.44 494.5H168.68V497.7H163.44ZM168.68 498.3H173.92V501.5H168.68ZM173.92 500.9H179.16V504.1H173.92ZM179.16 504.8H184.4V508H179.16ZM184.4 516.6H210.6V520.2H184.4ZM210.6 557.2H315.4V560H210.6Z" fill="url(#hatch)"/>
<path d="M53.4 561.4 L69.12 561.4 L69.12 554.9 L74.36 554.9 L74.36 548.8 L79.6 548.8 L79.6 536.5 L84.84 536.5 L84.84 533 L90.08 533 L90.08 533.3 L95.32 533.3 L95.32 525.9 L100.56 525.9 L100.56 515.2 L105.8 515.2 L105.8 520.1 L111.04 520.1 L111.04 509.9 L116.28 509.9 L116.28 514 L121.52 514 L121.52 503.8 L126.76 503.8 L126.76 502.8 L132 502.8 L132 501.3 L137.24 501.3 L137.24 507.5 L142.48 507.5 L142.48 521.2 L147.72 521.2 L147.72 533 L152.96 533 L152.96 545.1 L158.2 545.1 L158.2 553.9 L163.44 553.9 L163.44 561.4 L168.68 561.4 L168.68 553.9 L173.92 553.9 L173.92 561.4 L179.16 561.4 L179.16 561.4 L184.4 561.4 L184.4 561.4 L210.6 561.4 L210.6 561.4 L315.4 561.4" fill="none" stroke="#f44f30" stroke-width="1.3"/>
<path d="M53.4 561.4 L69.12 561.4 L69.12 561.4 L74.36 561.4 L74.36 549.8 L79.6 549.8 L79.6 554.9 L84.84 554.9 L84.84 548.8 L90.08 548.8 L90.08 533 L95.32 533 L95.32 552.8 L100.56 552.8 L100.56 554.3 L105.8 554.3 L105.8 535.5 L111.04 535.5 L111.04 520.8 L116.28 520.8 L116.28 527.4 L121.52 527.4 L121.52 522.2 L126.76 522.2 L126.76 521.2 L132 521.2 L132 534.4 L137.24 534.4 L137.24 520.1 L142.48 520.1 L142.48 515 L147.72 515 L147.72 513.6 L152.96 513.6 L152.96 513 L158.2 513 L158.2 509.9 L163.44 509.9 L163.44 503.8 L168.68 503.8 L168.68 499.7 L173.92 499.7 L173.92 501 L179.16 501 L179.16 505 L184.4 505 L184.4 531.3 L210.6 531.3 L210.6 561.4 L315.4 561.4" fill="none" stroke="#1a581a" stroke-width="1.5" stroke-dasharray="2.2 1.52"/>
<path d="M53.4 501.3H69.12M184.4 516.4H210.6M210.6 552.1H315.4" stroke="#606060" stroke-width="1.1" fill="none"/>
<path d="M160.82 487.4V492.4M166.06 491.2V497.2M171.3 492.1V499.1M176.54 498.4V506.4M181.78 497.3V505.3M197.5 514.4V518.4M263 548.6V555.6" stroke="#222" stroke-width="1.1" fill="none"/>
</g>
<g fill="#000"><circle cx="61.26" cy="501.3" r="3.3"/><circle cx="71.74" cy="477.2" r="3.3"/><circle cx="76.98" cy="466.6" r="3.3"/><circle cx="82.22" cy="457.4" r="3.3"/><circle cx="87.46" cy="450" r="3.3"/><circle cx="92.7" cy="443.5" r="3.3"/><circle cx="97.94" cy="439" r="3.3"/><circle cx="103.18" cy="442.1" r="3.3"/><circle cx="108.42" cy="443.9" r="3.3"/><circle cx="113.66" cy="449.2" r="3.3"/><circle cx="118.9" cy="455.4" r="3.3"/><circle cx="124.14" cy="459.4" r="3.3"/><circle cx="129.38" cy="463.3" r="3.3"/><circle cx="134.62" cy="467" r="3.3"/><circle cx="139.86" cy="470.7" r="3.3"/><circle cx="145.1" cy="481.7" r="3.3"/><circle cx="150.34" cy="482.3" r="3.3"/><circle cx="155.58" cy="485.8" r="3.3"/><circle cx="160.82" cy="489.9" r="3.3"/><circle cx="166.06" cy="494.2" r="3.3"/><circle cx="171.3" cy="495.6" r="3.3"/><circle cx="176.54" cy="502.4" r="3.3"/><circle cx="181.78" cy="501.3" r="3.3"/><circle cx="197.5" cy="516.4" r="3.3"/><circle cx="263" cy="552.1" r="3.3"/></g>
<clipPath id="c3l"><rect x="53.4" y="564.8" width="262" height="71"/></clipPath>
<g clip-path="url(#c3l)">
<path d="M53.4 594.7H68.37V604.9H53.4ZM68.37 595.7H120.77V602.9H68.37ZM120.77 596H173.17V603.5H120.77ZM173.92 594.8H184.4V606.9H173.92ZM184.4 593.7H210.6V603.6H184.4ZM210.6 593.3H315.4V606.4H210.6Z" fill="#aaaaaa"/>
<path d="M53.4 590.6H69.12M184.4 593.1H210.6M210.6 576.5H315.4" stroke="#222" stroke-width="1.1" fill="none"/>
<path d="M61.26 582.2V599M71.74 608.3V616.3M76.98 602.3V610.3M82.22 592.1V598.1M87.46 595.3V600.3M92.7 602V607M97.94 596.9V601.9M103.18 600.8V605.8M108.42 588.7V595.7M113.66 592.8V597.8M118.9 603V608M124.14 596.9V603.9M129.38 595.2V603.2M134.62 593.2V603.2M139.86 587.7V599.7M145.1 604.6V616.6M150.34 597.3V611.3M155.58 588.9V605.9M160.82 591V609M166.06 583.7V605.7M171.3 575.5V600.5M176.54 588V612M181.78 564.1V601M197.5 583.9V603.2M263 565.3V591.1" stroke="#222" stroke-width="1.1" fill="none"/>
</g>
<g fill="#000"><circle cx="61.26" cy="590.6" r="2.7"/><circle cx="71.74" cy="612.3" r="2.7"/><circle cx="76.98" cy="606.3" r="2.7"/><circle cx="82.22" cy="595.1" r="2.7"/><circle cx="87.46" cy="597.8" r="2.7"/><circle cx="92.7" cy="604.5" r="2.7"/><circle cx="97.94" cy="599.4" r="2.7"/><circle cx="103.18" cy="603.3" r="2.7"/><circle cx="108.42" cy="592.2" r="2.7"/><circle cx="113.66" cy="595.3" r="2.7"/><circle cx="118.9" cy="605.5" r="2.7"/><circle cx="124.14" cy="600.4" r="2.7"/><circle cx="129.38" cy="599.2" r="2.7"/><circle cx="134.62" cy="598.2" r="2.7"/><circle cx="139.86" cy="593.7" r="2.7"/><circle cx="145.1" cy="610.6" r="2.7"/><circle cx="150.34" cy="604.3" r="2.7"/><circle cx="155.58" cy="597.4" r="2.7"/><circle cx="160.82" cy="600" r="2.7"/><circle cx="166.06" cy="594.7" r="2.7"/><circle cx="171.3" cy="588" r="2.7"/><circle cx="176.54" cy="600" r="2.7"/><circle cx="181.78" cy="586.1" r="2.7"/><circle cx="197.5" cy="593.1" r="2.7"/><circle cx="263" cy="576.5" r="2.7"/></g>
<path d="M60.89 360.3v4M60.89 561.4v-4M68.37 360.3v4M68.37 561.4v-4M75.86 360.3v4M75.86 561.4v-4M83.34 360.3v4M83.34 561.4v-4M90.83 360.3v8.3M90.83 561.4v-8.3M98.31 360.3v4M98.31 561.4v-4M105.8 360.3v4M105.8 561.4v-4M113.29 360.3v4M113.29 561.4v-4M120.77 360.3v4M120.77 561.4v-4M128.26 360.3v8.3M128.26 561.4v-8.3M135.74 360.3v4M135.74 561.4v-4M143.23 360.3v4M143.23 561.4v-4M150.71 360.3v4M150.71 561.4v-4M158.2 360.3v4M158.2 561.4v-4M165.69 360.3v8.3M165.69 561.4v-8.3M173.17 360.3v4M173.17 561.4v-4M180.66 360.3v4M180.66 561.4v-4M188.14 360.3v4M188.14 561.4v-4M195.63 360.3v4M195.63 561.4v-4M203.11 360.3v8.3M203.11 561.4v-8.3M210.6 360.3v4M210.6 561.4v-4M218.09 360.3v4M218.09 561.4v-4M225.57 360.3v4M225.57 561.4v-4M233.06 360.3v4M233.06 561.4v-4M240.54 360.3v8.3M240.54 561.4v-8.3M248.03 360.3v4M248.03 561.4v-4M255.51 360.3v4M255.51 561.4v-4M263 360.3v4M263 561.4v-4M270.49 360.3v4M270.49 561.4v-4M277.97 360.3v8.3M277.97 561.4v-8.3M285.46 360.3v4M285.46 561.4v-4M292.94 360.3v4M292.94 561.4v-4M300.43 360.3v4M300.43 561.4v-4M307.91 360.3v4M307.91 561.4v-4M53.4 550.17h3.1M315.4 550.17h-3.1M53.4 542.54h3.1M315.4 542.54h-3.1M53.4 537.13h3.1M315.4 537.13h-3.1M53.4 532.93h3.1M315.4 532.93h-3.1M53.4 529.51h3.1M315.4 529.51h-3.1M53.4 526.61h3.1M315.4 526.61h-3.1M53.4 524.1h3.1M315.4 524.1h-3.1M53.4 521.88h3.1M315.4 521.88h-3.1M53.4 519.9h6.2M315.4 519.9h-6.2M53.4 506.87h3.1M315.4 506.87h-3.1M53.4 499.24h3.1M315.4 499.24h-3.1M53.4 493.83h3.1M315.4 493.83h-3.1M53.4 489.63h3.1M315.4 489.63h-3.1M53.4 486.21h3.1M315.4 486.21h-3.1M53.4 483.31h3.1M315.4 483.31h-3.1M53.4 480.8h3.1M315.4 480.8h-3.1M53.4 478.58h3.1M315.4 478.58h-3.1M53.4 476.6h6.2M315.4 476.6h-6.2M53.4 463.57h3.1M315.4 463.57h-3.1M53.4 455.94h3.1M315.4 455.94h-3.1M53.4 450.53h3.1M315.4 450.53h-3.1M53.4 446.33h3.1M315.4 446.33h-3.1M53.4 442.91h3.1M315.4 442.91h-3.1M53.4 440.01h3.1M315.4 440.01h-3.1M53.4 437.5h3.1M315.4 437.5h-3.1M53.4 435.28h3.1M315.4 435.28h-3.1M53.4 433.3h6.2M315.4 433.3h-6.2M53.4 420.27h3.1M315.4 420.27h-3.1M53.4 412.64h3.1M315.4 412.64h-3.1M53.4 407.23h3.1M315.4 407.23h-3.1M53.4 403.03h3.1M315.4 403.03h-3.1M53.4 399.61h3.1M315.4 399.61h-3.1M53.4 396.71h3.1M315.4 396.71h-3.1M53.4 394.2h3.1M315.4 394.2h-3.1M53.4 391.98h3.1M315.4 391.98h-3.1M53.4 390h6.2M315.4 390h-6.2M53.4 376.97h3.1M315.4 376.97h-3.1M53.4 369.34h3.1M315.4 369.34h-3.1M53.4 363.93h3.1M315.4 363.93h-3.1M60.89 564.8v3.2M60.89 635.8v-3.5M68.37 564.8v3.2M68.37 635.8v-3.5M75.86 564.8v3.2M75.86 635.8v-3.5M83.34 564.8v3.2M83.34 635.8v-3.5M90.83 564.8v6.4M90.83 635.8v-6.9M98.31 564.8v3.2M98.31 635.8v-3.5M105.8 564.8v3.2M105.8 635.8v-3.5M113.29 564.8v3.2M113.29 635.8v-3.5M120.77 564.8v3.2M120.77 635.8v-3.5M128.26 564.8v6.4M128.26 635.8v-6.9M135.74 564.8v3.2M135.74 635.8v-3.5M143.23 564.8v3.2M143.23 635.8v-3.5M150.71 564.8v3.2M150.71 635.8v-3.5M158.2 564.8v3.2M158.2 635.8v-3.5M165.69 564.8v6.4M165.69 635.8v-6.9M173.17 564.8v3.2M173.17 635.8v-3.5M180.66 564.8v3.2M180.66 635.8v-3.5M188.14 564.8v3.2M188.14 635.8v-3.5M195.63 564.8v3.2M195.63 635.8v-3.5M203.11 564.8v6.4M203.11 635.8v-6.9M210.6 564.8v3.2M210.6 635.8v-3.5M218.09 564.8v3.2M218.09 635.8v-3.5M225.57 564.8v3.2M225.57 635.8v-3.5M233.06 564.8v3.2M233.06 635.8v-3.5M240.54 564.8v6.4M240.54 635.8v-6.9M248.03 564.8v3.2M248.03 635.8v-3.5M255.51 564.8v3.2M255.51 635.8v-3.5M263 564.8v3.2M263 635.8v-3.5M270.49 564.8v3.2M270.49 635.8v-3.5M277.97 564.8v6.4M277.97 635.8v-6.9M285.46 564.8v3.2M285.46 635.8v-3.5M292.94 564.8v3.2M292.94 635.8v-3.5M300.43 564.8v3.2M300.43 635.8v-3.5M307.91 564.8v3.2M307.91 635.8v-3.5M53.4 630.56h2.4M315.4 630.56h-2.4M53.4 625.5h4.7M315.4 625.5h-4.7M53.4 620.44h2.4M315.4 620.44h-2.4M53.4 615.38h2.4M315.4 615.38h-2.4M53.4 610.32h2.4M315.4 610.32h-2.4M53.4 605.26h2.4M315.4 605.26h-2.4M53.4 600.2h4.7M315.4 600.2h-4.7M53.4 595.14h2.4M315.4 595.14h-2.4M53.4 590.08h2.4M315.4 590.08h-2.4M53.4 585.02h2.4M315.4 585.02h-2.4M53.4 579.96h2.4M315.4 579.96h-2.4M53.4 574.9h4.7M315.4 574.9h-4.7M53.4 569.84h2.4M315.4 569.84h-2.4" stroke="#1a1a1a" stroke-width="1" fill="none"/>
<rect x="53.4" y="360.3" width="262" height="201.1" fill="none" stroke="#333" stroke-width="1.1"/>
<rect x="53.4" y="564.8" width="262" height="71" fill="none" stroke="#333" stroke-width="1.1"/>
<g style="font-family:'Liberation Sans',sans-serif" fill="#000"><text x="315.7" y="357.1" font-size="12.6" text-anchor="end">35.9 fb<tspan font-size="8.6" dy="-4.6">-1</tspan><tspan dy="4.6"> (13 TeV)</tspan></text><text x="70" y="384.05" font-size="16.4" font-weight="bold" textLength="36" lengthAdjust="spacingAndGlyphs">CMS</text><text x="70.7" y="400.1" font-size="13">μ channel</text><text x="201.2" y="381.8" font-size="13.3">≥ 2 b tag category</text><path d="M164.1 398.9h18M173.1 393.4v11" stroke="#000" stroke-width="1"/><circle cx="173.1" cy="398.9" r="2.4" fill="#000"/><text x="186.7" y="402.5" font-size="9.8">Data</text><rect x="164.1" y="410.8" width="18" height="13.2" fill="#99ccff"/><text x="186.7" y="421.2" font-size="9.8">Background</text><path d="M164.1 436.4h18" stroke="#f44f30" stroke-width="1.3"/><text x="186.7" y="439.3" font-size="9.8">B+b, <tspan font-style="italic">m</tspan><tspan font-size="7" dy="2.4" dx="0.6">B</tspan><tspan dy="-2.4" dx="0.6"> = 1100 GeV, RH</tspan></text><path d="M164.1 455.2h18" stroke="#1a581a" stroke-width="1.4" stroke-dasharray="2 1.72"/><text x="186.7" y="458.7" font-size="9.8">B+b, <tspan font-style="italic">m</tspan><tspan font-size="7" dy="2.4" dx="0.6">B</tspan><tspan dy="-2.4" dx="0.6"> = 1700 GeV, RH</tspan></text><text x="47.2" y="396.4" font-size="12.2" text-anchor="end">10<tspan font-size="8.4" dy="-6.4" dx="0.3">2</tspan></text><text x="48" y="438.5" font-size="12.2" text-anchor="end">10</text><text x="48" y="481.8" font-size="12.2" text-anchor="end">1</text><text x="47.2" y="525.9" font-size="12.2" text-anchor="end">10<tspan font-size="8.4" dy="-5.2" dx="0.3">−1</tspan></text><text x="49" y="579.2" font-size="12" text-anchor="end">1.5</text><text x="49" y="605" font-size="12" text-anchor="end">1</text><text x="49" y="629.8" font-size="12" text-anchor="end">0.5</text><text x="53" y="650.9" font-size="12.1" text-anchor="middle">0</text><text x="89.63" y="650.9" font-size="12.1" text-anchor="middle">500</text><text x="127.06" y="650.9" font-size="12.1" text-anchor="middle">1000</text><text x="164.49" y="650.9" font-size="12.1" text-anchor="middle">1500</text><text x="201.91" y="650.9" font-size="12.1" text-anchor="middle">2000</text><text x="239.34" y="650.9" font-size="12.1" text-anchor="middle">2500</text><text x="276.77" y="650.9" font-size="12.1" text-anchor="middle">3000</text><text x="314.2" y="650.9" font-size="12.1" text-anchor="middle">3500</text><text transform="translate(13.8 360.3) rotate(-90)" font-size="14.4" text-anchor="end">Events / GeV</text><text transform="translate(12.8 561.6) rotate(-90)" font-size="14.2" text-anchor="end">Data / Bkg</text><text x="311.1" y="671.7" font-size="14.6" text-anchor="end"><tspan font-style="italic" font-size="13.6">m</tspan><tspan font-size="9.5" dy="3" dx="0.8">reco</tspan><tspan dy="-3"> [GeV]</tspan></text></g>
<clipPath id="c4"><rect x="409.9" y="360.4" width="262" height="201.1"/></clipPath>
<g clip-path="url(#c4)">
<path d="M409.9 561.5 L409.9 497.6 L425.62 497.6 L425.62 472.4 L430.86 472.4 L430.86 461.6 L436.1 461.6 L436.1 453.3 L441.34 453.3 L441.34 445.9 L446.58 445.9 L446.58 440.9 L451.82 440.9 L451.82 439.2 L457.06 439.2 L457.06 440.9 L462.3 440.9 L462.3 444.2 L467.54 444.2 L467.54 447.5 L472.78 447.5 L472.78 451.9 L478.02 451.9 L478.02 456.6 L483.26 456.6 L483.26 461.1 L488.5 461.1 L488.5 464.4 L493.74 464.4 L493.74 468.6 L498.98 468.6 L498.98 472.1 L504.22 472.1 L504.22 476 L509.46 476 L509.46 479.1 L514.7 479.1 L514.7 483.7 L519.94 483.7 L519.94 487.9 L525.18 487.9 L525.18 491.1 L530.42 491.1 L530.42 494.8 L535.66 494.8 L535.66 498.4 L540.9 498.4 L540.9 501.9 L546.14 501.9 L546.14 503.8 L551.38 503.8 L551.38 505.7 L556.62 505.7 L556.62 517.2 L561.86 517.2 L561.86 519.8 L567.1 519.8 L567.1 522.6 L582.82 522.6 L582.82 529.4 L593.3 529.4 L593.3 539.5 L609.02 539.5 L609.02 556.6 L671.9 556.6 L671.9 561.5Z" fill="#99ccff"/>
<path d="M409.9 495.6H425.62V499.6H409.9ZM425.62 471H430.86V473.8H425.62ZM430.86 460.2H436.1V463H430.86ZM436.1 451.9H441.34V454.7H436.1ZM441.34 444.5H446.58V447.3H441.34ZM446.58 439.5H451.82V442.3H446.58ZM451.82 437.8H457.06V440.6H451.82ZM457.06 439.5H462.3V442.3H457.06ZM462.3 442.8H467.54V445.6H462.3ZM467.54 446.1H472.78V448.9H467.54ZM472.78 450.5H478.02V453.3H472.78ZM478.02 455.2H483.26V458H478.02ZM483.26 459.7H488.5V462.5H483.26ZM488.5 463H493.74V465.8H488.5ZM493.74 467.2H498.98V470H493.74ZM498.98 470.7H504.22V473.5H498.98ZM504.22 474.6H509.46V477.4H504.22ZM509.46 477.7H514.7V480.5H509.46ZM514.7 482.3H519.94V485.1H514.7ZM519.94 486.5H525.18V489.3H519.94ZM525.18 489.7H530.42V492.5H525.18ZM530.42 493.4H535.66V496.2H530.42ZM535.66 497H540.9V499.8H535.66ZM540.9 500.5H546.14V503.3H540.9ZM546.14 502.4H551.38V505.2H546.14ZM551.38 504.3H556.62V507.1H551.38ZM556.62 515.8H561.86V518.6H556.62ZM561.86 518.4H567.1V521.2H561.86ZM567.1 520.4H582.82V524.8H567.1ZM582.82 527.2H593.3V531.6H582.82ZM593.3 537.3H609.02V541.7H593.3ZM609.02 555.3H671.9V557.9H609.02Z" fill="url(#hatch)"/>
<path d="M409.9 556.5 L425.62 556.5 L425.62 530 L430.86 530 L430.86 531.4 L436.1 531.4 L436.1 523.2 L441.34 523.2 L441.34 517.7 L446.58 517.7 L446.58 516.1 L451.82 516.1 L451.82 514 L457.06 514 L457.06 505.4 L462.3 505.4 L462.3 502.8 L467.54 502.8 L467.54 496 L472.78 496 L472.78 497.7 L478.02 497.7 L478.02 491.5 L483.26 491.5 L483.26 492.6 L488.5 492.6 L488.5 493.6 L493.74 493.6 L493.74 497.7 L498.98 497.7 L498.98 511.6 L504.22 511.6 L504.22 520.1 L509.46 520.1 L509.46 537.5 L514.7 537.5 L514.7 561.5 L519.94 561.5 L519.94 553.6 L525.18 553.6 L525.18 543.5 L530.42 543.5 L530.42 560 L535.66 560 L535.66 561.5 L540.9 561.5 L540.9 561.5 L546.14 561.5 L546.14 552.4 L551.38 552.4 L551.38 561.5 L556.62 561.5 L556.62 561.5 L561.86 561.5 L561.86 561.5 L567.1 561.5 L567.1 561.5 L582.82 561.5 L582.82 561.5 L593.3 561.5 L593.3 561.5 L609.02 561.5 L609.02 561.5 L671.9 561.5" fill="none" stroke="#f44f30" stroke-width="1.3"/>
<path d="M409.9 556.5 L425.62 556.5 L425.62 533.4 L430.86 533.4 L430.86 531 L436.1 531 L436.1 526.3 L441.34 526.3 L441.34 525.2 L446.58 525.2 L446.58 520.1 L451.82 520.1 L451.82 517.7 L457.06 517.7 L457.06 517.7 L462.3 517.7 L462.3 518 L467.54 518 L467.54 520.1 L472.78 520.1 L472.78 516 L478.02 516 L478.02 514.4 L483.26 514.4 L483.26 514.4 L488.5 514.4 L488.5 510.3 L493.74 510.3 L493.74 504.8 L498.98 504.8 L498.98 509.9 L504.22 509.9 L504.22 500.3 L509.46 500.3 L509.46 501.3 L514.7 501.3 L514.7 493.6 L519.94 493.6 L519.94 491.5 L525.18 491.5 L525.18 491.5 L530.42 491.5 L530.42 491.5 L535.66 491.5 L535.66 491.5 L540.9 491.5 L540.9 500 L546.14 500 L546.14 520.8 L551.38 520.8 L551.38 532.4 L556.62 532.4 L556.62 546.7 L561.86 546.7 L561.86 554.1 L567.1 554.1 L567.1 559.2 L582.82 559.2 L582.82 561.5 L593.3 561.5 L593.3 561.5 L609.02 561.5 L609.02 561.5 L671.9 561.5" fill="none" stroke="#1a581a" stroke-width="1.5" stroke-dasharray="2.2 1.52"/>
<path d="M409.9 499.3H425.62M567.1 520.9H582.82M582.82 521.3H593.3M593.3 532.3H609.02M609.02 559.6H671.9" stroke="#606060" stroke-width="1.1" fill="none"/>
<path d="M554 509.1V515.1M559.24 506.8V514.8M564.48 510.8V520.8M588.06 516.3V526.3M601.16 527.3V537.3M640.46 554.1V565.1" stroke="#222" stroke-width="1.1" fill="none"/>
</g>
<g fill="#000"><circle cx="417.76" cy="499.3" r="3.3"/><circle cx="428.24" cy="471.1" r="3.3"/><circle cx="433.48" cy="459.2" r="3.3"/><circle cx="438.72" cy="451.7" r="3.3"/><circle cx="443.96" cy="444.9" r="3.3"/><circle cx="449.2" cy="439" r="3.3"/><circle cx="454.44" cy="437" r="3.3"/><circle cx="459.68" cy="439.4" r="3.3"/><circle cx="464.92" cy="443.1" r="3.3"/><circle cx="470.16" cy="446.6" r="3.3"/><circle cx="475.4" cy="451.1" r="3.3"/><circle cx="480.64" cy="454.7" r="3.3"/><circle cx="485.88" cy="460.5" r="3.3"/><circle cx="491.12" cy="463.3" r="3.3"/><circle cx="496.36" cy="468.6" r="3.3"/><circle cx="501.6" cy="472.1" r="3.3"/><circle cx="506.84" cy="475.2" r="3.3"/><circle cx="512.08" cy="475.2" r="3.3"/><circle cx="517.32" cy="484.6" r="3.3"/><circle cx="522.56" cy="487.9" r="3.3"/><circle cx="527.8" cy="489.2" r="3.3"/><circle cx="533.04" cy="490" r="3.3"/><circle cx="538.28" cy="499.8" r="3.3"/><circle cx="543.52" cy="499.5" r="3.3"/><circle cx="548.76" cy="502" r="3.3"/><circle cx="554" cy="512.1" r="3.3"/><circle cx="559.24" cy="510.8" r="3.3"/><circle cx="564.48" cy="515.8" r="3.3"/><circle cx="574.96" cy="520.9" r="3.3"/><circle cx="588.06" cy="521.3" r="3.3"/><circle cx="601.16" cy="532.3" r="3.3"/><circle cx="640.46" cy="559.6" r="3.3"/></g>
<clipPath id="c4l"><rect x="409.9" y="564.9" width="262" height="71"/></clipPath>
<g clip-path="url(#c4l)">
<path d="M409.9 596.3H425.62V603.9H409.9ZM425.62 597.5H484.76V603.9H425.62ZM484.76 598.3H537.16V604.2H484.76ZM537.16 596.5H561.86V605H537.16ZM561.86 591.6H567.1V608H561.86ZM567.1 593.7H582.82V605.8H567.1ZM582.82 592.2H593.3V608H582.82ZM593.3 590.9H609.02V608.4H593.3ZM609.02 592.2H671.9V606.8H609.02Z" fill="#aaaaaa"/>
<path d="M409.9 605.3H425.62M567.1 594.2H582.82M582.82 571.9H593.3M593.3 573.6H609.02M609.02 606.4H671.9" stroke="#222" stroke-width="1.1" fill="none"/>
<path d="M417.76 602.8V607.8M428.24 601.9V605.9M433.48 592.1V596.1M438.72 593.7V597.7M443.96 599.9V603.9M449.2 599.2V603.2M454.44 600.5V604.5M459.68 600.1V604.1M464.92 600.5V604.5M470.16 600.1V604.1M475.4 595.8V599.8M480.64 591.7V595.7M485.88 594.2V599.2M491.12 594.7V599.7M496.36 597.9V602.9M501.6 598.2V604.2M506.84 594.3V601.3M512.08 583.6V593.6M517.32 596.8V607.8M522.56 592.8V604.8M527.8 587.1V601.1M533.04 573V591M538.28 595.6V611.6M543.52 581.1V601.1M548.76 581.8V601.8M554 609.2V625.2M559.24 563.8V590.5M564.48 564.6V605.8M574.96 583.2V604.7M588.06 563.9V590.5M601.16 564.6V594.8M640.46 587.8V620" stroke="#222" stroke-width="1.1" fill="none"/>
</g>
<g fill="#000"><circle cx="417.76" cy="605.3" r="2.7"/><circle cx="428.24" cy="603.9" r="2.7"/><circle cx="433.48" cy="594.1" r="2.7"/><circle cx="438.72" cy="595.7" r="2.7"/><circle cx="443.96" cy="601.9" r="2.7"/><circle cx="449.2" cy="601.2" r="2.7"/><circle cx="454.44" cy="602.5" r="2.7"/><circle cx="459.68" cy="602.1" r="2.7"/><circle cx="464.92" cy="602.5" r="2.7"/><circle cx="470.16" cy="602.1" r="2.7"/><circle cx="475.4" cy="597.8" r="2.7"/><circle cx="480.64" cy="593.7" r="2.7"/><circle cx="485.88" cy="596.7" r="2.7"/><circle cx="491.12" cy="597.2" r="2.7"/><circle cx="496.36" cy="600.4" r="2.7"/><circle cx="501.6" cy="601.2" r="2.7"/><circle cx="506.84" cy="597.8" r="2.7"/><circle cx="512.08" cy="588.6" r="2.7"/><circle cx="517.32" cy="602.3" r="2.7"/><circle cx="522.56" cy="598.8" r="2.7"/><circle cx="527.8" cy="594.1" r="2.7"/><circle cx="533.04" cy="582" r="2.7"/><circle cx="538.28" cy="603.6" r="2.7"/><circle cx="543.52" cy="591.1" r="2.7"/><circle cx="548.76" cy="591.8" r="2.7"/><circle cx="554" cy="617.2" r="2.7"/><circle cx="559.24" cy="570.8" r="2.7"/><circle cx="564.48" cy="587.6" r="2.7"/><circle cx="574.96" cy="594.2" r="2.7"/><circle cx="588.06" cy="571.9" r="2.7"/><circle cx="601.16" cy="573.6" r="2.7"/><circle cx="640.46" cy="606.4" r="2.7"/></g>
<path d="M417.39 360.4v4M417.39 561.5v-4M424.87 360.4v4M424.87 561.5v-4M432.36 360.4v4M432.36 561.5v-4M439.84 360.4v4M439.84 561.5v-4M447.33 360.4v8.3M447.33 561.5v-8.3M454.81 360.4v4M454.81 561.5v-4M462.3 360.4v4M462.3 561.5v-4M469.79 360.4v4M469.79 561.5v-4M477.27 360.4v4M477.27 561.5v-4M484.76 360.4v8.3M484.76 561.5v-8.3M492.24 360.4v4M492.24 561.5v-4M499.73 360.4v4M499.73 561.5v-4M507.21 360.4v4M507.21 561.5v-4M514.7 360.4v4M514.7 561.5v-4M522.19 360.4v8.3M522.19 561.5v-8.3M529.67 360.4v4M529.67 561.5v-4M537.16 360.4v4M537.16 561.5v-4M544.64 360.4v4M544.64 561.5v-4M552.13 360.4v4M552.13 561.5v-4M559.61 360.4v8.3M559.61 561.5v-8.3M567.1 360.4v4M567.1 561.5v-4M574.59 360.4v4M574.59 561.5v-4M582.07 360.4v4M582.07 561.5v-4M589.56 360.4v4M589.56 561.5v-4M597.04 360.4v8.3M597.04 561.5v-8.3M604.53 360.4v4M604.53 561.5v-4M612.01 360.4v4M612.01 561.5v-4M619.5 360.4v4M619.5 561.5v-4M626.99 360.4v4M626.99 561.5v-4M634.47 360.4v8.3M634.47 561.5v-8.3M641.96 360.4v4M641.96 561.5v-4M649.44 360.4v4M649.44 561.5v-4M656.93 360.4v4M656.93 561.5v-4M664.41 360.4v4M664.41 561.5v-4M409.9 550.76h3.1M671.9 550.76h-3.1M409.9 544.07h3.1M671.9 544.07h-3.1M409.9 539.32h3.1M671.9 539.32h-3.1M409.9 535.64h3.1M671.9 535.64h-3.1M409.9 532.63h3.1M671.9 532.63h-3.1M409.9 530.09h3.1M671.9 530.09h-3.1M409.9 527.88h3.1M671.9 527.88h-3.1M409.9 525.94h3.1M671.9 525.94h-3.1M409.9 524.2h6.2M671.9 524.2h-6.2M409.9 512.76h3.1M671.9 512.76h-3.1M409.9 506.07h3.1M671.9 506.07h-3.1M409.9 501.32h3.1M671.9 501.32h-3.1M409.9 497.64h3.1M671.9 497.64h-3.1M409.9 494.63h3.1M671.9 494.63h-3.1M409.9 492.09h3.1M671.9 492.09h-3.1M409.9 489.88h3.1M671.9 489.88h-3.1M409.9 487.94h3.1M671.9 487.94h-3.1M409.9 486.2h6.2M671.9 486.2h-6.2M409.9 474.76h3.1M671.9 474.76h-3.1M409.9 468.07h3.1M671.9 468.07h-3.1M409.9 463.32h3.1M671.9 463.32h-3.1M409.9 459.64h3.1M671.9 459.64h-3.1M409.9 456.63h3.1M671.9 456.63h-3.1M409.9 454.09h3.1M671.9 454.09h-3.1M409.9 451.88h3.1M671.9 451.88h-3.1M409.9 449.94h3.1M671.9 449.94h-3.1M409.9 448.2h6.2M671.9 448.2h-6.2M409.9 436.76h3.1M671.9 436.76h-3.1M409.9 430.07h3.1M671.9 430.07h-3.1M409.9 425.32h3.1M671.9 425.32h-3.1M409.9 421.64h3.1M671.9 421.64h-3.1M409.9 418.63h3.1M671.9 418.63h-3.1M409.9 416.09h3.1M671.9 416.09h-3.1M409.9 413.88h3.1M671.9 413.88h-3.1M409.9 411.94h3.1M671.9 411.94h-3.1M409.9 410.2h6.2M671.9 410.2h-6.2M409.9 398.76h3.1M671.9 398.76h-3.1M409.9 392.07h3.1M671.9 392.07h-3.1M409.9 387.32h3.1M671.9 387.32h-3.1M409.9 383.64h3.1M671.9 383.64h-3.1M409.9 380.63h3.1M671.9 380.63h-3.1M409.9 378.09h3.1M671.9 378.09h-3.1M409.9 375.88h3.1M671.9 375.88h-3.1M409.9 373.94h3.1M671.9 373.94h-3.1M409.9 372.2h6.2M671.9 372.2h-6.2M409.9 360.76h3.1M671.9 360.76h-3.1M417.39 564.9v3.2M417.39 635.9v-3.5M424.87 564.9v3.2M424.87 635.9v-3.5M432.36 564.9v3.2M432.36 635.9v-3.5M439.84 564.9v3.2M439.84 635.9v-3.5M447.33 564.9v6.4M447.33 635.9v-6.9M454.81 564.9v3.2M454.81 635.9v-3.5M462.3 564.9v3.2M462.3 635.9v-3.5M469.79 564.9v3.2M469.79 635.9v-3.5M477.27 564.9v3.2M477.27 635.9v-3.5M484.76 564.9v6.4M484.76 635.9v-6.9M492.24 564.9v3.2M492.24 635.9v-3.5M499.73 564.9v3.2M499.73 635.9v-3.5M507.21 564.9v3.2M507.21 635.9v-3.5M514.7 564.9v3.2M514.7 635.9v-3.5M522.19 564.9v6.4M522.19 635.9v-6.9M529.67 564.9v3.2M529.67 635.9v-3.5M537.16 564.9v3.2M537.16 635.9v-3.5M544.64 564.9v3.2M544.64 635.9v-3.5M552.13 564.9v3.2M552.13 635.9v-3.5M559.61 564.9v6.4M559.61 635.9v-6.9M567.1 564.9v3.2M567.1 635.9v-3.5M574.59 564.9v3.2M574.59 635.9v-3.5M582.07 564.9v3.2M582.07 635.9v-3.5M589.56 564.9v3.2M589.56 635.9v-3.5M597.04 564.9v6.4M597.04 635.9v-6.9M604.53 564.9v3.2M604.53 635.9v-3.5M612.01 564.9v3.2M612.01 635.9v-3.5M619.5 564.9v3.2M619.5 635.9v-3.5M626.99 564.9v3.2M626.99 635.9v-3.5M634.47 564.9v6.4M634.47 635.9v-6.9M641.96 564.9v3.2M641.96 635.9v-3.5M649.44 564.9v3.2M649.44 635.9v-3.5M656.93 564.9v3.2M656.93 635.9v-3.5M664.41 564.9v3.2M664.41 635.9v-3.5M409.9 630.66h2.4M671.9 630.66h-2.4M409.9 625.6h4.7M671.9 625.6h-4.7M409.9 620.54h2.4M671.9 620.54h-2.4M409.9 615.48h2.4M671.9 615.48h-2.4M409.9 610.42h2.4M671.9 610.42h-2.4M409.9 605.36h2.4M671.9 605.36h-2.4M409.9 600.3h4.7M671.9 600.3h-4.7M409.9 595.24h2.4M671.9 595.24h-2.4M409.9 590.18h2.4M671.9 590.18h-2.4M409.9 585.12h2.4M671.9 585.12h-2.4M409.9 580.06h2.4M671.9 580.06h-2.4M409.9 575h4.7M671.9 575h-4.7M409.9 569.94h2.4M671.9 569.94h-2.4" stroke="#1a1a1a" stroke-width="1" fill="none"/>
<rect x="409.9" y="360.4" width="262" height="201.1" fill="none" stroke="#333" stroke-width="1.1"/>
<rect x="409.9" y="564.9" width="262" height="71" fill="none" stroke="#333" stroke-width="1.1"/>
<g style="font-family:'Liberation Sans',sans-serif" fill="#000"><text x="672.2" y="357.2" font-size="12.6" text-anchor="end">35.9 fb<tspan font-size="8.6" dy="-4.6">-1</tspan><tspan dy="4.6"> (13 TeV)</tspan></text><text x="426.5" y="384.15" font-size="16.4" font-weight="bold" textLength="36" lengthAdjust="spacingAndGlyphs">CMS</text><text x="427.2" y="400.2" font-size="13">μ channel</text><text x="557.7" y="381.9" font-size="13.3">1 b tag category</text><path d="M520.6 399h18M529.6 393.5v11" stroke="#000" stroke-width="1"/><circle cx="529.6" cy="399" r="2.4" fill="#000"/><text x="543.2" y="402.6" font-size="9.8">Data</text><rect x="520.6" y="410.9" width="18" height="13.2" fill="#99ccff"/><text x="543.2" y="421.3" font-size="9.8">Background</text><path d="M520.6 436.5h18" stroke="#f44f30" stroke-width="1.3"/><text x="543.2" y="439.4" font-size="9.8">B+b, <tspan font-style="italic">m</tspan><tspan font-size="7" dy="2.4" dx="0.6">B</tspan><tspan dy="-2.4" dx="0.6"> = 1100 GeV, RH</tspan></text><path d="M520.6 455.3h18" stroke="#1a581a" stroke-width="1.4" stroke-dasharray="2 1.72"/><text x="543.2" y="458.8" font-size="9.8">B+b, <tspan font-style="italic">m</tspan><tspan font-size="7" dy="2.4" dx="0.6">B</tspan><tspan dy="-2.4" dx="0.6"> = 1700 GeV, RH</tspan></text><text x="403.7" y="378.6" font-size="12.2" text-anchor="end">10<tspan font-size="8.4" dy="-6.4" dx="0.3">3</tspan></text><text x="403.7" y="416.6" font-size="12.2" text-anchor="end">10<tspan font-size="8.4" dy="-6.4" dx="0.3">2</tspan></text><text x="404.5" y="453.4" font-size="12.2" text-anchor="end">10</text><text x="404.5" y="491.4" font-size="12.2" text-anchor="end">1</text><text x="403.7" y="530.2" font-size="12.2" text-anchor="end">10<tspan font-size="8.4" dy="-5.2" dx="0.3">−1</tspan></text><text x="405.5" y="579.3" font-size="12" text-anchor="end">1.5</text><text x="405.5" y="605.1" font-size="12" text-anchor="end">1</text><text x="405.5" y="629.9" font-size="12" text-anchor="end">0.5</text><text x="409.5" y="649.9" font-size="12.1" text-anchor="middle">0</text><text x="446.13" y="649.9" font-size="12.1" text-anchor="middle">500</text><text x="483.56" y="649.9" font-size="12.1" text-anchor="middle">1000</text><text x="520.99" y="649.9" font-size="12.1" text-anchor="middle">1500</text><text x="558.41" y="649.9" font-size="12.1" text-anchor="middle">2000</text><text x="595.84" y="649.9" font-size="12.1" text-anchor="middle">2500</text><text x="633.27" y="649.9" font-size="12.1" text-anchor="middle">3000</text><text x="670.7" y="649.9" font-size="12.1" text-anchor="middle">3500</text><text transform="translate(370.3 360.4) rotate(-90)" font-size="14.4" text-anchor="end">Events / GeV</text><text transform="translate(369.3 561.7) rotate(-90)" font-size="14.2" text-anchor="end">Data / Bkg</text><text x="670.9" y="674.6" font-size="14.6" text-anchor="end"><tspan font-style="italic" font-size="13.6">m</tspan><tspan font-size="9.5" dy="3" dx="0.8">reco</tspan><tspan dy="-3"> [GeV]</tspan></text></g>
<clipPath id="c5"><rect x="231.6" y="709.6" width="262" height="201.1"/></clipPath>
<g clip-path="url(#c5)">
<path d="M231.6 910.7 L231.6 880.2 L242.08 880.2 L242.08 839.8 L247.32 839.8 L247.32 825.4 L252.56 825.4 L252.56 811 L257.8 811 L257.8 797.9 L263.04 797.9 L263.04 787.9 L268.28 787.9 L268.28 783.5 L273.52 783.5 L273.52 782.1 L278.76 782.1 L278.76 784 L284 784 L284 787.2 L289.24 787.2 L289.24 790.9 L294.48 790.9 L294.48 795 L299.72 795 L299.72 799.6 L304.96 799.6 L304.96 802.3 L310.2 802.3 L310.2 806.6 L315.44 806.6 L315.44 810.2 L320.68 810.2 L320.68 813.8 L325.92 813.8 L325.92 817.3 L331.16 817.3 L331.16 821.1 L336.4 821.1 L336.4 824.8 L341.64 824.8 L341.64 828 L346.88 828 L346.88 831.2 L352.12 831.2 L352.12 834.4 L357.36 834.4 L357.36 837.4 L362.6 837.4 L362.6 840 L367.84 840 L367.84 844.9 L373.08 844.9 L373.08 846.9 L378.32 846.9 L378.32 849.9 L383.56 849.9 L383.56 853.8 L388.8 853.8 L388.8 856.7 L394.04 856.7 L394.04 859.6 L399.28 859.6 L399.28 862.2 L404.52 862.2 L404.52 865.4 L415 865.4 L415 872.4 L420.24 872.4 L420.24 879.8 L462.16 879.8 L462.16 897.9 L493.6 897.9 L493.6 910.7Z" fill="#99ccff"/>
<path d="M231.6 877.7H242.08V882.7H231.6ZM242.08 838.5H247.32V841.1H242.08ZM247.32 824.1H252.56V826.7H247.32ZM252.56 809.7H257.8V812.3H252.56ZM257.8 796.6H263.04V799.2H257.8ZM263.04 786.6H268.28V789.2H263.04ZM268.28 782.2H273.52V784.8H268.28ZM273.52 780.8H278.76V783.4H273.52ZM278.76 782.7H284V785.3H278.76ZM284 785.9H289.24V788.5H284ZM289.24 789.6H294.48V792.2H289.24ZM294.48 793.7H299.72V796.3H294.48ZM299.72 798.3H304.96V800.9H299.72ZM304.96 801H310.2V803.6H304.96ZM310.2 805.3H315.44V807.9H310.2ZM315.44 808.9H320.68V811.5H315.44ZM320.68 812.5H325.92V815.1H320.68ZM325.92 816H331.16V818.6H325.92ZM331.16 819.8H336.4V822.4H331.16ZM336.4 823.5H341.64V826.1H336.4ZM341.64 826.7H346.88V829.3H341.64ZM346.88 829.9H352.12V832.5H346.88ZM352.12 833.1H357.36V835.7H352.12ZM357.36 836.1H362.6V838.7H357.36ZM362.6 838.7H367.84V841.3H362.6ZM367.84 843.6H373.08V846.2H367.84ZM373.08 845.6H378.32V848.2H373.08ZM378.32 848.6H383.56V851.2H378.32ZM383.56 852.5H388.8V855.1H383.56ZM388.8 855.4H394.04V858H388.8ZM394.04 858.3H399.28V860.9H394.04ZM399.28 860.9H404.52V863.5H399.28ZM404.52 864.1H415V866.7H404.52ZM415 870.8H420.24V874H415ZM420.24 878.2H462.16V881.4H420.24ZM462.16 896.2H493.6V899.6H462.16Z" fill="url(#hatch)"/>
<path d="M231.6 910.7 L242.08 910.7 L242.08 891.4 L247.32 891.4 L247.32 888.3 L252.56 888.3 L252.56 884.7 L257.8 884.7 L257.8 876.5 L263.04 876.5 L263.04 881 L268.28 881 L268.28 872 L273.52 872 L273.52 870.4 L278.76 870.4 L278.76 867.7 L284 867.7 L284 862.6 L289.24 862.6 L289.24 856.5 L294.48 856.5 L294.48 854 L299.72 854 L299.72 851.6 L304.96 851.6 L304.96 852.4 L310.2 852.4 L310.2 852.4 L315.44 852.4 L315.44 858.5 L320.68 858.5 L320.68 873.4 L325.92 873.4 L325.92 890.4 L331.16 890.4 L331.16 893.9 L336.4 893.9 L336.4 910.7 L341.64 910.7 L341.64 897.3 L346.88 897.3 L346.88 910.7 L352.12 910.7 L352.12 910.7 L357.36 910.7 L357.36 910.7 L362.6 910.7 L362.6 910.7 L367.84 910.7 L367.84 910.7 L373.08 910.7 L373.08 910.7 L378.32 910.7 L378.32 910.7 L383.56 910.7 L383.56 910.7 L388.8 910.7 L388.8 910.7 L394.04 910.7 L394.04 910.7 L399.28 910.7 L399.28 910.7 L404.52 910.7 L404.52 910.7 L415 910.7 L415 910.7 L420.24 910.7 L420.24 910.7 L462.16 910.7 L462.16 910.7 L493.6 910.7" fill="none" stroke="#f44f30" stroke-width="1.3"/>
<path d="M231.6 910.7 L242.08 910.7 L242.08 898.7 L247.32 898.7 L247.32 895.6 L252.56 895.6 L252.56 888 L257.8 888 L257.8 888 L263.04 888 L263.04 877.7 L268.28 877.7 L268.28 878.1 L273.52 878.1 L273.52 875 L278.76 875 L278.76 872 L284 872 L284 882.2 L289.24 882.2 L289.24 876.9 L294.48 876.9 L294.48 872.4 L299.72 872.4 L299.72 875.5 L304.96 875.5 L304.96 874 L310.2 874 L310.2 870.4 L315.44 870.4 L315.44 868.7 L320.68 868.7 L320.68 862.2 L325.92 862.2 L325.92 860.1 L331.16 860.1 L331.16 860 L336.4 860 L336.4 855.4 L341.64 855.4 L341.64 854 L346.88 854 L346.88 852.4 L352.12 852.4 L352.12 852 L357.36 852 L357.36 854.4 L362.6 854.4 L362.6 861.4 L367.84 861.4 L367.84 879.7 L373.08 879.7 L373.08 901.2 L378.32 901.2 L378.32 910.7 L383.56 910.7 L383.56 910.7 L388.8 910.7 L388.8 910.7 L394.04 910.7 L394.04 910.7 L399.28 910.7 L399.28 910.7 L404.52 910.7 L404.52 910.7 L415 910.7 L415 910.7 L420.24 910.7 L420.24 910.7 L462.16 910.7 L462.16 910.7 L493.6 910.7" fill="none" stroke="#1a581a" stroke-width="1.5" stroke-dasharray="2.2 1.52"/>
<path d="M231.6 877.5H242.08M404.52 866.3H415M420.24 877.3H462.16M462.16 897.5H493.6" stroke="#606060" stroke-width="1.1" fill="none"/>
<path d="M391.42 856.7V860.7M396.66 854.9V859.9M401.9 853.1V859.1M409.76 864.3V868.3M417.62 864.1V872.1M477.88 892.5V902.5" stroke="#222" stroke-width="1.1" fill="none"/>
</g>
<g fill="#000"><circle cx="236.84" cy="877.5" r="3.3"/><circle cx="244.7" cy="837" r="3.3"/><circle cx="249.94" cy="825.8" r="3.3"/><circle cx="255.18" cy="809.5" r="3.3"/><circle cx="260.42" cy="795.8" r="3.3"/><circle cx="265.66" cy="786.6" r="3.3"/><circle cx="270.9" cy="782.1" r="3.3"/><circle cx="276.14" cy="780.8" r="3.3"/><circle cx="281.38" cy="782.9" r="3.3"/><circle cx="286.62" cy="786.6" r="3.3"/><circle cx="291.86" cy="789.6" r="3.3"/><circle cx="297.1" cy="795.2" r="3.3"/><circle cx="302.34" cy="797.8" r="3.3"/><circle cx="307.58" cy="800.9" r="3.3"/><circle cx="312.82" cy="806" r="3.3"/><circle cx="318.06" cy="810.3" r="3.3"/><circle cx="323.3" cy="815.2" r="3.3"/><circle cx="328.54" cy="815.2" r="3.3"/><circle cx="333.78" cy="819.9" r="3.3"/><circle cx="339.02" cy="824.6" r="3.3"/><circle cx="344.26" cy="826.6" r="3.3"/><circle cx="349.5" cy="829.5" r="3.3"/><circle cx="354.74" cy="833.3" r="3.3"/><circle cx="359.98" cy="836.4" r="3.3"/><circle cx="365.22" cy="838.5" r="3.3"/><circle cx="370.46" cy="845.4" r="3.3"/><circle cx="375.7" cy="848.3" r="3.3"/><circle cx="380.94" cy="852" r="3.3"/><circle cx="386.18" cy="851" r="3.3"/><circle cx="391.42" cy="858.7" r="3.3"/><circle cx="396.66" cy="857.4" r="3.3"/><circle cx="401.9" cy="856.1" r="3.3"/><circle cx="409.76" cy="866.3" r="3.3"/><circle cx="417.62" cy="868.1" r="3.3"/><circle cx="441.2" cy="877.3" r="3.3"/><circle cx="477.88" cy="897.5" r="3.3"/></g>
<clipPath id="c5l"><rect x="231.6" y="914.1" width="262" height="71"/></clipPath>
<g clip-path="url(#c5l)">
<path d="M231.6 940.7H242.08V957.4H231.6ZM242.08 946.4H306.46V953.3H242.08ZM306.46 947H373.83V953.5H306.46ZM373.83 943.7H404.52V953.9H373.83ZM404.52 942.7H415V954.6H404.52ZM415 941.1H420.24V957H415ZM420.24 944.7H462.16V953.9H420.24ZM462.16 941.7H493.6V956.6H462.16Z" fill="#aaaaaa"/>
<path d="M231.6 941.7H242.08M404.52 953.3H415M420.24 938H462.16M462.16 945.4H493.6" stroke="#222" stroke-width="1.1" fill="none"/>
<path d="M236.84 921.2V962.1M244.7 937.3V947.3M249.94 952V960M255.18 945.8V949.8M260.42 945.8V949.8M265.66 951.9V955.9M270.9 949.9V953.9M276.14 949.5V953.5M281.38 947.2V951.2M286.62 946.4V950.4M291.86 945.4V949.4M297.1 949.3V953.3M302.34 940.7V944.7M307.58 945.2V949.2M312.82 946.8V950.8M318.06 950.3V954.3M323.3 954V958M328.54 942.2V947.2M333.78 944.3V949.3M339.02 944.8V950.8M344.26 938.7V946.7M349.5 936.1V946.1M354.74 937.7V947.7M359.98 938.1V948.1M365.22 937.3V947.3M370.46 936.7V952.7M375.7 945.9V959.9M380.94 949.4V963.4M386.18 927.4V947.8M391.42 945.8V965.2M396.66 926.3V952.9M401.9 914.1V937.6M409.76 944.7V962.1M417.62 914.1V952.9M441.2 930V947.4M477.88 923.9V961.1" stroke="#222" stroke-width="1.1" fill="none"/>
</g>
<g fill="#000"><circle cx="236.84" cy="941.7" r="2.7"/><circle cx="244.7" cy="942.3" r="2.7"/><circle cx="249.94" cy="956" r="2.7"/><circle cx="255.18" cy="947.8" r="2.7"/><circle cx="260.42" cy="947.8" r="2.7"/><circle cx="265.66" cy="953.9" r="2.7"/><circle cx="270.9" cy="951.9" r="2.7"/><circle cx="276.14" cy="951.5" r="2.7"/><circle cx="281.38" cy="949.2" r="2.7"/><circle cx="286.62" cy="948.4" r="2.7"/><circle cx="291.86" cy="947.4" r="2.7"/><circle cx="297.1" cy="951.3" r="2.7"/><circle cx="302.34" cy="942.7" r="2.7"/><circle cx="307.58" cy="947.2" r="2.7"/><circle cx="312.82" cy="948.8" r="2.7"/><circle cx="318.06" cy="952.3" r="2.7"/><circle cx="323.3" cy="956" r="2.7"/><circle cx="328.54" cy="944.7" r="2.7"/><circle cx="333.78" cy="946.8" r="2.7"/><circle cx="339.02" cy="947.8" r="2.7"/><circle cx="344.26" cy="942.7" r="2.7"/><circle cx="349.5" cy="941.1" r="2.7"/><circle cx="354.74" cy="942.7" r="2.7"/><circle cx="359.98" cy="943.1" r="2.7"/><circle cx="365.22" cy="942.3" r="2.7"/><circle cx="370.46" cy="944.7" r="2.7"/><circle cx="375.7" cy="952.9" r="2.7"/><circle cx="380.94" cy="956.4" r="2.7"/><circle cx="386.18" cy="938" r="2.7"/><circle cx="391.42" cy="956.6" r="2.7"/><circle cx="396.66" cy="941.1" r="2.7"/><circle cx="401.9" cy="923.7" r="2.7"/><circle cx="409.76" cy="953.3" r="2.7"/><circle cx="417.62" cy="934.1" r="2.7"/><circle cx="441.2" cy="938" r="2.7"/><circle cx="477.88" cy="945.4" r="2.7"/></g>
<path d="M239.09 709.6v4M239.09 910.7v-4M246.57 709.6v4M246.57 910.7v-4M254.06 709.6v4M254.06 910.7v-4M261.54 709.6v4M261.54 910.7v-4M269.03 709.6v8.3M269.03 910.7v-8.3M276.51 709.6v4M276.51 910.7v-4M284 709.6v4M284 910.7v-4M291.49 709.6v4M291.49 910.7v-4M298.97 709.6v4M298.97 910.7v-4M306.46 709.6v8.3M306.46 910.7v-8.3M313.94 709.6v4M313.94 910.7v-4M321.43 709.6v4M321.43 910.7v-4M328.91 709.6v4M328.91 910.7v-4M336.4 709.6v4M336.4 910.7v-4M343.89 709.6v8.3M343.89 910.7v-8.3M351.37 709.6v4M351.37 910.7v-4M358.86 709.6v4M358.86 910.7v-4M366.34 709.6v4M366.34 910.7v-4M373.83 709.6v4M373.83 910.7v-4M381.31 709.6v8.3M381.31 910.7v-8.3M388.8 709.6v4M388.8 910.7v-4M396.29 709.6v4M396.29 910.7v-4M403.77 709.6v4M403.77 910.7v-4M411.26 709.6v4M411.26 910.7v-4M418.74 709.6v8.3M418.74 910.7v-8.3M426.23 709.6v4M426.23 910.7v-4M433.71 709.6v4M433.71 910.7v-4M441.2 709.6v4M441.2 910.7v-4M448.69 709.6v4M448.69 910.7v-4M456.17 709.6v8.3M456.17 910.7v-8.3M463.66 709.6v4M463.66 910.7v-4M471.14 709.6v4M471.14 910.7v-4M478.63 709.6v4M478.63 910.7v-4M486.11 709.6v4M486.11 910.7v-4M231.6 901.14h3.1M493.6 901.14h-3.1M231.6 894.91h3.1M493.6 894.91h-3.1M231.6 890.49h3.1M493.6 890.49h-3.1M231.6 887.06h3.1M493.6 887.06h-3.1M231.6 884.25h3.1M493.6 884.25h-3.1M231.6 881.88h3.1M493.6 881.88h-3.1M231.6 879.83h3.1M493.6 879.83h-3.1M231.6 878.02h3.1M493.6 878.02h-3.1M231.6 876.4h6.2M493.6 876.4h-6.2M231.6 865.74h3.1M493.6 865.74h-3.1M231.6 859.51h3.1M493.6 859.51h-3.1M231.6 855.09h3.1M493.6 855.09h-3.1M231.6 851.66h3.1M493.6 851.66h-3.1M231.6 848.85h3.1M493.6 848.85h-3.1M231.6 846.48h3.1M493.6 846.48h-3.1M231.6 844.43h3.1M493.6 844.43h-3.1M231.6 842.62h3.1M493.6 842.62h-3.1M231.6 841h6.2M493.6 841h-6.2M231.6 830.34h3.1M493.6 830.34h-3.1M231.6 824.11h3.1M493.6 824.11h-3.1M231.6 819.69h3.1M493.6 819.69h-3.1M231.6 816.26h3.1M493.6 816.26h-3.1M231.6 813.45h3.1M493.6 813.45h-3.1M231.6 811.08h3.1M493.6 811.08h-3.1M231.6 809.03h3.1M493.6 809.03h-3.1M231.6 807.22h3.1M493.6 807.22h-3.1M231.6 805.6h6.2M493.6 805.6h-6.2M231.6 794.94h3.1M493.6 794.94h-3.1M231.6 788.71h3.1M493.6 788.71h-3.1M231.6 784.29h3.1M493.6 784.29h-3.1M231.6 780.86h3.1M493.6 780.86h-3.1M231.6 778.05h3.1M493.6 778.05h-3.1M231.6 775.68h3.1M493.6 775.68h-3.1M231.6 773.63h3.1M493.6 773.63h-3.1M231.6 771.82h3.1M493.6 771.82h-3.1M231.6 770.2h6.2M493.6 770.2h-6.2M231.6 759.54h3.1M493.6 759.54h-3.1M231.6 753.31h3.1M493.6 753.31h-3.1M231.6 748.89h3.1M493.6 748.89h-3.1M231.6 745.46h3.1M493.6 745.46h-3.1M231.6 742.65h3.1M493.6 742.65h-3.1M231.6 740.28h3.1M493.6 740.28h-3.1M231.6 738.23h3.1M493.6 738.23h-3.1M231.6 736.42h3.1M493.6 736.42h-3.1M231.6 734.8h6.2M493.6 734.8h-6.2M231.6 724.14h3.1M493.6 724.14h-3.1M231.6 717.91h3.1M493.6 717.91h-3.1M231.6 713.49h3.1M493.6 713.49h-3.1M231.6 710.06h3.1M493.6 710.06h-3.1M239.09 914.1v3.2M239.09 985.1v-3.5M246.57 914.1v3.2M246.57 985.1v-3.5M254.06 914.1v3.2M254.06 985.1v-3.5M261.54 914.1v3.2M261.54 985.1v-3.5M269.03 914.1v6.4M269.03 985.1v-6.9M276.51 914.1v3.2M276.51 985.1v-3.5M284 914.1v3.2M284 985.1v-3.5M291.49 914.1v3.2M291.49 985.1v-3.5M298.97 914.1v3.2M298.97 985.1v-3.5M306.46 914.1v6.4M306.46 985.1v-6.9M313.94 914.1v3.2M313.94 985.1v-3.5M321.43 914.1v3.2M321.43 985.1v-3.5M328.91 914.1v3.2M328.91 985.1v-3.5M336.4 914.1v3.2M336.4 985.1v-3.5M343.89 914.1v6.4M343.89 985.1v-6.9M351.37 914.1v3.2M351.37 985.1v-3.5M358.86 914.1v3.2M358.86 985.1v-3.5M366.34 914.1v3.2M366.34 985.1v-3.5M373.83 914.1v3.2M373.83 985.1v-3.5M381.31 914.1v6.4M381.31 985.1v-6.9M388.8 914.1v3.2M388.8 985.1v-3.5M396.29 914.1v3.2M396.29 985.1v-3.5M403.77 914.1v3.2M403.77 985.1v-3.5M411.26 914.1v3.2M411.26 985.1v-3.5M418.74 914.1v6.4M418.74 985.1v-6.9M426.23 914.1v3.2M426.23 985.1v-3.5M433.71 914.1v3.2M433.71 985.1v-3.5M441.2 914.1v3.2M441.2 985.1v-3.5M448.69 914.1v3.2M448.69 985.1v-3.5M456.17 914.1v6.4M456.17 985.1v-6.9M463.66 914.1v3.2M463.66 985.1v-3.5M471.14 914.1v3.2M471.14 985.1v-3.5M478.63 914.1v3.2M478.63 985.1v-3.5M486.11 914.1v3.2M486.11 985.1v-3.5M231.6 979.86h2.4M493.6 979.86h-2.4M231.6 974.8h4.7M493.6 974.8h-4.7M231.6 969.74h2.4M493.6 969.74h-2.4M231.6 964.68h2.4M493.6 964.68h-2.4M231.6 959.62h2.4M493.6 959.62h-2.4M231.6 954.56h2.4M493.6 954.56h-2.4M231.6 949.5h4.7M493.6 949.5h-4.7M231.6 944.44h2.4M493.6 944.44h-2.4M231.6 939.38h2.4M493.6 939.38h-2.4M231.6 934.32h2.4M493.6 934.32h-2.4M231.6 929.26h2.4M493.6 929.26h-2.4M231.6 924.2h4.7M493.6 924.2h-4.7M231.6 919.14h2.4M493.6 919.14h-2.4" stroke="#1a1a1a" stroke-width="1" fill="none"/>
<rect x="231.6" y="709.6" width="262" height="201.1" fill="none" stroke="#333" stroke-width="1.1"/>
<rect x="231.6" y="914.1" width="262" height="71" fill="none" stroke="#333" stroke-width="1.1"/>
<g style="font-family:'Liberation Sans',sans-serif" fill="#000"><text x="493.9" y="706.4" font-size="12.6" text-anchor="end">35.9 fb<tspan font-size="8.6" dy="-4.6">-1</tspan><tspan dy="4.6"> (13 TeV)</tspan></text><text x="248.2" y="733.35" font-size="16.4" font-weight="bold" textLength="36" lengthAdjust="spacingAndGlyphs">CMS</text><text x="248.9" y="749.4" font-size="13">μ channel</text><text x="379.4" y="731.1" font-size="13.3">0 b tag category</text><path d="M342.3 748.2h18M351.3 742.7v11" stroke="#000" stroke-width="1"/><circle cx="351.3" cy="748.2" r="2.4" fill="#000"/><text x="364.9" y="751.8" font-size="9.8">Data</text><rect x="342.3" y="760.1" width="18" height="13.2" fill="#99ccff"/><text x="364.9" y="770.5" font-size="9.8">Background</text><path d="M342.3 785.7h18" stroke="#f44f30" stroke-width="1.3"/><text x="364.9" y="788.6" font-size="9.8">B+b, <tspan font-style="italic">m</tspan><tspan font-size="7" dy="2.4" dx="0.6">B</tspan><tspan dy="-2.4" dx="0.6"> = 1100 GeV, RH</tspan></text><path d="M342.3 804.5h18" stroke="#1a581a" stroke-width="1.4" stroke-dasharray="2 1.72"/><text x="364.9" y="808" font-size="9.8">B+b, <tspan font-style="italic">m</tspan><tspan font-size="7" dy="2.4" dx="0.6">B</tspan><tspan dy="-2.4" dx="0.6"> = 1700 GeV, RH</tspan></text><text x="225.4" y="741.2" font-size="12.2" text-anchor="end">10<tspan font-size="8.4" dy="-6.4" dx="0.3">3</tspan></text><text x="225.4" y="776.6" font-size="12.2" text-anchor="end">10<tspan font-size="8.4" dy="-6.4" dx="0.3">2</tspan></text><text x="226.2" y="810.8" font-size="12.2" text-anchor="end">10</text><text x="226.2" y="846.2" font-size="12.2" text-anchor="end">1</text><text x="225.4" y="882.4" font-size="12.2" text-anchor="end">10<tspan font-size="8.4" dy="-5.2" dx="0.3">−1</tspan></text><text x="228.4" y="928.5" font-size="12" text-anchor="end">1.5</text><text x="228.4" y="954.3" font-size="12" text-anchor="end">1</text><text x="228.4" y="979.1" font-size="12" text-anchor="end">0.5</text><text x="231.2" y="999.8" font-size="12.1" text-anchor="middle">0</text><text x="267.83" y="999.8" font-size="12.1" text-anchor="middle">500</text><text x="305.26" y="999.8" font-size="12.1" text-anchor="middle">1000</text><text x="342.69" y="999.8" font-size="12.1" text-anchor="middle">1500</text><text x="380.11" y="999.8" font-size="12.1" text-anchor="middle">2000</text><text x="417.54" y="999.8" font-size="12.1" text-anchor="middle">2500</text><text x="454.97" y="999.8" font-size="12.1" text-anchor="middle">3000</text><text x="492.4" y="999.8" font-size="12.1" text-anchor="middle">3500</text><text transform="translate(192 709.6) rotate(-90)" font-size="14.4" text-anchor="end">Events / GeV</text><text transform="translate(191 910.9) rotate(-90)" font-size="14.2" text-anchor="end">Data / Bkg</text><text x="493.1" y="1020.4" font-size="14.6" text-anchor="end"><tspan font-style="italic" font-size="13.6">m</tspan><tspan font-size="9.5" dy="3" dx="0.8">reco</tspan><tspan dy="-3"> [GeV]</tspan></text></g>
</svg></body></html>
